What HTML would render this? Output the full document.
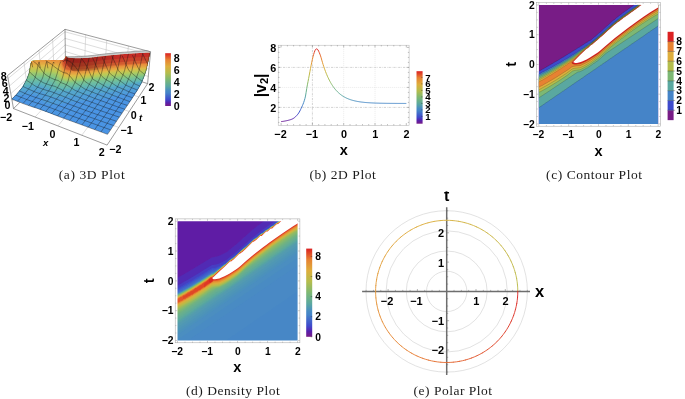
<!DOCTYPE html>
<html><head><meta charset="utf-8"><title>Figure</title>
<style>html,body{margin:0;padding:0;background:#fff}svg{display:block}.tk{font-family:"Liberation Sans",sans-serif;font-weight:bold;fill:#000}.cap{font-family:"Liberation Serif",serif;font-size:13.5px;fill:#1a1a1a}</style></head>
<body><svg width="685" height="399" viewBox="0 0 685 399">
<rect width="685" height="399" fill="#fff"/>
<g id="contour">
<rect x="538.9" y="5.0" width="119.2" height="118.9" fill="#781c86"/>
<path d="M539.6 123.9L658.1 123.9L658.1 5L633.9 5L633.5 5.2L632 6.5L631.3 6.8L629.8 8L628.3 8.9L626.8 10.2L626.1 10.5L624.6 11.7L623.6 12.4L623.1 12.6L621.6 13.9L620.1 14.9L617.7 16.9L617.1 17.2L614.1 19.9L613.4 20.2L612.7 20.8L608.9 24.3L606 26.8L600.7 31.8L599.2 32.8L595.5 36.2L594 37.2L591 39.9L589.6 40.7L588.8 40.9L587.3 42.2L586.6 42.4L584.9 43.6L584.3 43.8L583.7 44.4L582.1 45.3L581.4 45.9L580.6 46.2L579.1 47.4L578.4 47.6L576.7 48.8L576.1 49L575.5 49.6L573.9 50.5L573.2 51.1L572.4 51.3L570.7 52.6L570.2 52.7L569.5 53.3L568.7 53.6L567.1 54.8L566.5 55L565.8 55.5L564.2 56.4L563.5 57L562.7 57.2L562.1 57.8L560.5 58.6L559.8 59.2L559 59.5L558.4 60L556.8 60.9L556 61.5L555.3 61.7L554.6 62.2L553.8 62.6L553.1 63.1L552.2 63.7L551.6 63.9L550.9 64.5L550.1 64.8L548.3 65.9L547.8 66.1L547.1 66.7L546.4 66.9L545.7 67.4L544.9 67.8L543.2 68.9L542.6 69.1L541.9 69.7L541.1 69.9L540.5 70.4L539.6 70.8L538.9 71.2L538.9 123.9Z" fill="#3e4acc" fill-rule="evenodd"/>
<path d="M539.6 123.9L658.1 123.9L658.1 5L638 5L637.2 5.2L635 7.2L634.3 7.4L632.8 8.7L632 9.1L631.6 9.5L631.3 9.6L629.8 10.9L629 11.1L627.6 12.4L626.8 12.8L626.3 13.2L626.1 13.3L624.6 14.7L623.8 14.9L621.5 16.9L620.9 17.1L618.6 19.1L617.9 19.4L614.8 22.1L614.1 22.4L612.7 23.7L609.7 26.6L608.9 27L607.4 28.2L602.2 33.2L600 34.9L596.3 38.4L594.8 39.4L591.8 42.2L591 42.4L589.6 43.6L588.8 43.9L587.4 45.1L586.3 45.9L585.8 46L584.3 47.4L583.6 47.6L582.1 48.8L581.4 49.1L579.9 50.3L579.1 50.7L577.7 51.8L576.9 52.2L575.4 53.3L574.7 53.7L573.2 54.8L572.4 55.1L570.8 56.3L570.2 56.5L569.5 57L568 57.9L567.2 58.5L566.5 58.8L565.8 59.2L564.2 60.1L563.5 60.7L562.7 61L562.1 61.5L561.2 61.9L559.6 63L559 63.2L558.3 63.7L557.5 64L556.9 64.5L555.3 65.3L554.4 65.9L553.8 66.1L553.1 66.7L552.3 67L551.7 67.4L550.8 67.8L546.1 70.4L545.6 70.6L544.8 71.1L544.1 71.4L543.4 71.9L542.6 72.1L541.9 72.6L541.1 72.9L540.4 73.4L539.6 73.6L538.9 74.1L538.9 123.9Z" fill="#4584c8" fill-rule="evenodd"/>
<path d="M539.6 107.2L541.1 106.1L541.9 105.7L543.3 104.6L544.1 104.2L545.5 103.1L547.1 102.1L548.8 100.9L549.3 100.6L550.8 99.4L551.6 99.1L553 97.9L553.8 97.5L555.2 96.4L556 96L557.4 94.9L559 94L560.7 92.7L561.2 92.4L562.7 91.2L563.5 90.9L565 89.7L565.7 89.4L567.2 88.2L568 87.8L569.4 86.7L570.9 85.8L572.6 84.5L573.2 84.3L574.7 83L575.4 82.7L576.9 81.5L577.6 81.2L579.1 80.1L579.9 79.7L581.3 78.6L582.9 77.7L584.6 76.3L585.1 76.1L586.6 74.9L587.3 74.6L588.8 73.4L589.6 73.1L591 71.9L591.8 71.5L593.2 70.4L594.8 69.5L596.5 68.2L597 68L598.5 66.7L599.2 66.4L600.7 65.2L601.5 64.9L602.9 63.7L604.5 62.8L605.1 62.2L606.7 61.3L608.4 60L608.9 59.8L610.4 58.5L611.2 58.2L612.6 57L613.4 56.7L614.8 55.5L615.6 55.1L617.1 54L618.6 53.1L620.3 51.8L620.9 51.6L622.3 50.3L623.1 50.1L624.6 48.8L625.3 48.5L626.8 47.4L627.6 47L629 45.9L630.5 44.9L632.2 43.6L632.8 43.4L634.3 42.2L635 41.9L636.5 40.7L637.2 40.4L638.7 39.2L639.5 38.8L640.9 37.7L642.5 36.8L644.2 35.5L644.7 35.3L646.2 34L646.9 33.7L648.4 32.5L649.2 32.2L650.6 31L651.4 30.6L652.8 29.5L654.4 28.6L656.1 27.3L656.6 27.1L658.1 25.8L658.1 5L638.5 5L622.3 16.6L616.4 21.2L611.2 25.5L599.2 36.3L595.9 39.2L590.3 43.7L589.6 44.1L573.9 55.4L565 61L556 66.3L547.1 71.4L538.9 75.6L538.9 107.6Z" fill="#5aa8a0" fill-rule="evenodd"/>
<path d="M539.6 97.3L549.3 91L550 90.5L551.6 89.5L552.2 89L553.8 88L554.4 87.5L556 86.5L556.7 86L558.3 85L558.9 84.5L560.5 83.5L561.2 83L562.7 82.1L563.4 81.5L565 80.6L565.6 80.1L567.2 79.1L567.9 78.6L573.9 74.6L574.6 74.1L576.1 73.2L576.8 72.6L578.2 71.9L579.9 71.7L581 71.1L582.1 70.7L583.9 69.7L584.3 69.5L585.1 68.9L585.8 68.7L586.5 68.2L587.3 67.9L589 66.7L589.6 66.5L591.1 65.2L591.8 64.9L593.2 63.7L594.8 62.8L596.5 61.5L597 61.3L600.7 58.2L606 53.3L607.4 52.4L608.1 51.8L609.7 50.9L610.4 50.3L611.9 49.4L612.6 48.8L614.1 47.9L617 45.9L658.1 18.6L658.1 5L639 5L623.1 16.5L617.1 21L611.2 25.9L600 36L594.8 40.4L590.3 44.1L589.6 44.5L584.7 48.1L573.9 56.4L565 62.2L556 67.6L547.1 72.8L538.9 77.1L538.9 97.8Z" fill="#7db874" fill-rule="evenodd"/>
<path d="M539.6 91.9L540.4 91.7L541.1 91.2L541.9 90.9L546.4 88.2L547.1 87.9L550.8 85.8L551.6 85.3L552.3 84.9L558.3 81.2L562.7 78.3L567.2 75.3L569.4 73.6L572.4 71.1L574.7 70.4L580 69.7L582.1 68.7L585.8 66.7L589.6 64.5L598.5 58.1L600 56.9L604.6 52.6L610.4 47.4L614.9 43.7L616.4 42.7L617.9 41.4L619.4 40.4L621.7 38.4L622.3 38.1L623.1 37.5L624.6 36.2L625.3 35.8L626.1 35.3L627.6 34L628.3 33.6L630.6 31.8L631.3 31.5L632.7 30.3L634.3 29.3L635.8 28L636.5 27.7L637.9 26.6L638.7 26.2L640.2 25.1L641.7 24.1L642.4 23.6L643.9 22.7L644.6 22.1L646.2 21.2L646.9 20.6L647.7 20.3L649.2 19.1L649.9 18.9L650.5 18.4L652.1 17.5L652.9 16.9L653.6 16.6L654.3 16.1L655.1 15.8L656.9 14.7L657.4 14.5L658.1 13.9L658.1 5L639.4 5L623.1 16.8L616.4 21.9L611.2 26.3L600.7 35.7L596.3 39.5L590.3 44.4L589.2 45.1L581.6 51.1L573.2 58L564.2 63.8L556 68.9L547.1 74.2L538.9 78.7L538.9 92.5Z" fill="#b4bd4c" fill-rule="evenodd"/>
<path d="M539.1 89.7L547.8 84.9L556.8 79.6L566.5 73.3L568.7 71.7L571.3 69.7L572.4 68.9L573.2 68.6L574.7 68.3L579.9 67.7L582.1 66.8L585.1 65.3L589.6 62.7L597 57.6L598.5 56.5L600.7 54.6L605.3 50.3L613.4 43.4L621.6 37L629.8 30.8L637.2 25.5L644.7 20.4L651.4 16.1L658.1 12.1L658.1 5L639.9 5L635 8.6L622.3 17.7L615.6 22.8L610.4 27.3L597 39.2L590.3 44.8L589.6 45.3L582.3 51.1L573.2 59L571.6 60L563.5 65.5L556 70.2L547.1 75.6L538.9 80.2L538.9 89.8Z" fill="#deae3c" fill-rule="evenodd"/>
<path d="M539.6 86.8L540.4 86.3L541.2 86L541.9 85.5L542.6 85.3L543.4 84.7L543.9 84.5L545.6 83.4L546.5 83L547.1 82.6L547.9 82.3L548.6 81.7L549.1 81.5L550.8 80.4L551.7 80.1L552.3 79.5L553.1 79.3L553.8 78.7L555.4 77.8L556 77.3L556.6 77.1L558.3 75.9L559 75.6L559.8 75L561.3 74.1L562 73.6L567 70.4L569.2 68.9L571.7 67L573.2 66.4L576.1 66L579.9 65.7L580.6 65.5L582.1 64.8L585.8 63L588.1 61.8L590.3 60.4L597 56L598.5 54.9L600.7 53L605.3 48.8L613.4 41.9L621.6 35.5L630.5 28.8L638.7 22.9L645.4 18.3L652.1 13.9L658.1 10.4L658.1 5L640.3 5L634.3 9.5L622.3 18L614.9 23.8L610.4 27.6L597 39.6L585.6 48.8L582.1 51.8L578.8 54.8L573.2 60L570.9 61.5L569.4 62.8L568.7 63.3L567.9 63.7L566.5 64.9L565.7 65.2L564.2 66.5L563.5 66.7L562 68L561.2 68.2L559.8 69.4L559 69.6L557.5 70.8L556.7 71.1L556 71.8L554.5 72.6L553.8 73.2L553.2 73.4L551.6 74.6L550.8 74.9L550.1 75.5L549.6 75.6L548.4 76.3L547.8 76.8L547.1 77.1L546.4 77.7L545.9 77.8L544.1 79L543.3 79.3L542.6 79.9L541.9 80.1L541.1 80.7L540.7 80.8L538.9 82L538.9 87.1Z" fill="#e78232" fill-rule="evenodd"/>
<path d="M573.2 63.9L574.7 64.3L576.1 64.3L579.9 63.7L581.4 63.2L585.8 61.2L588.8 59.6L597.8 53.9L600 52.1L605.2 47.4L613.4 40.4L620.1 35.2L628.3 28.9L636.5 22.9L643.9 17.7L651.4 12.8L658.1 8.7L658.1 5L640.8 5L639.5 6.1L637.8 7.2L636.5 8.3L622.3 18.4L615.6 23.5L609.7 28.6L598.5 38.7L594 42.5L588 47.4L583.6 51.1L578 56.3L572.2 62.2L571.7 63L572.8 63.7Z" fill="#db2122" fill-rule="evenodd"/>
<path d="M573.9 62.5L574.7 62.8L575.4 63L576.9 62.9L579.9 62.2L582.1 61.4L586.6 59.4L589.6 57.8L597.8 52.6L600.6 50.3L605.2 46.2L614.9 38L627.6 28.3L636.5 21.7L643.9 16.5L650.6 12L658.1 7.4L658.1 5L641.4 5L641 5.4L640.2 5.7L638.7 7.1L638 7.7L637.2 8L635.8 9.3L634.2 10.2L632.8 11.5L632 11.7L630.5 13L629.8 13.6L629 13.9L627.6 15.2L626.8 15.4L625.3 16.8L624.6 17.3L623.8 17.6L622.3 19L620.8 19.9L619.4 21.2L618.6 21.7L617.9 22.1L615.6 24.1L614.1 25.1L610.4 28.5L608.2 30.3L603 35.3L601.5 36.5L600.7 37L597 40.5L596.3 41.1L595.7 41.4L594.8 42.2L592.5 44.2L591.8 44.7L591 45.1L588.1 47.9L586.7 48.8L585.8 49.6L579.5 55.5L573.9 61.2L573.6 61.5L573.5 62.2Z" fill="#fff" fill-rule="evenodd"/>
<path d="M633.9 5L633.5 5.2L632 6.5L631.3 6.8L629.8 8L628.3 8.9L626.8 10.2L626.1 10.5L624.6 11.7L623.6 12.4L623.1 12.6L621.6 13.9L620.1 14.9L618.7 16.1L617.7 16.9L617.1 17.2L614.1 19.9L613.4 20.2L612.7 20.8L608.9 24.3L606 26.8L600.7 31.8L599.2 32.8L595.5 36.2L594 37.2L591 39.9L589.6 40.7L588.8 40.9L587.3 42.2L586.6 42.4L584.9 43.6L584.3 43.8L583.7 44.4L582.1 45.3L581.4 45.9L580.6 46.2L579.1 47.4L578.4 47.6L576.7 48.8L576.1 49L575.5 49.6L573.9 50.5L573.2 51.1L572.4 51.3L570.7 52.6L570.2 52.7L569.5 53.3L568.7 53.6L567.1 54.8L566.5 55L565.8 55.5L564.2 56.4L563.5 57L562.7 57.2L562.1 57.8L560.5 58.6L559.8 59.2L559 59.5L558.4 60L556.8 60.9L556 61.5L555.3 61.7L554.6 62.2L553.8 62.6L553.1 63.1L552.2 63.7L551.6 63.9L550.9 64.5L550.1 64.8L548.3 65.9L547.8 66.1L547.1 66.7L546.4 66.9L545.7 67.4L544.9 67.8L543.2 68.9L542.6 69.1L541.9 69.7L541.1 69.9L540.5 70.4L539.6 70.8L538.9 71.2M638 5L637.2 5.2L635 7.2L634.3 7.4L632.8 8.7L632 9.1L631.6 9.5L631.3 9.6L629.8 10.9L629 11.1L627.6 12.4L626.8 12.8L626.3 13.2L626.1 13.3L624.6 14.7L623.8 14.9L621.5 16.9L620.9 17.1L618.6 19.1L617.9 19.4L614.8 22.1L614.1 22.4L613.4 23L609.7 26.6L608.9 27L608.2 27.5L602.2 33.2L600 34.9L596.3 38.4L594.8 39.4L591.8 42.2L591 42.4L589.6 43.6L588.8 43.9L587.4 45.1L586.3 45.9L585.8 46L584.3 47.4L583.6 47.6L582.1 48.8L581.4 49.1L579.9 50.3L579.1 50.7L577.7 51.8L576.9 52.2L575.4 53.3L574.7 53.7L573.2 54.8L572.4 55.1L570.8 56.3L570.2 56.5L569.5 57L568 57.9L567.2 58.5L566.5 58.8L565.8 59.2L564.2 60.1L563.5 60.7L562.7 61L562.1 61.5L561.2 61.9L559.6 63L559 63.2L558.3 63.7L557.5 64L556.9 64.5L555.3 65.3L554.4 65.9L553.8 66.1L553.1 66.7L552.3 67L551.7 67.4L550.8 67.8L546.1 70.4L545.6 70.6L544.8 71.1L544.1 71.4L543.4 71.9L542.6 72.1L541.9 72.6L541.1 72.9L540.4 73.4L539.6 73.6L538.9 74.1M538.9 107.6L539.6 107.2L541.1 106.1L541.9 105.7L543.3 104.6L544.1 104.2L545.5 103.1L547.1 102.1L548.8 100.9L549.3 100.6L550.8 99.4L551.6 99.1L553 97.9L553.8 97.5L555.2 96.4L556 96L557.4 94.9L559 94L560.7 92.7L561.2 92.4L562.7 91.2L563.5 90.9L565 89.7L565.7 89.4L567.2 88.2L568 87.8L569.4 86.7L570.9 85.8L572.6 84.5L573.2 84.3L574.7 83L575.4 82.7L576.9 81.5L577.6 81.2L579.1 80.1L579.9 79.7L581.3 78.6L582.9 77.7L584.6 76.3L585.1 76.1L586.6 74.9L587.3 74.6L588.8 73.4L589.6 73.1L591 71.9L591.8 71.5L593.2 70.4L594.8 69.5L596.5 68.2L597 68L598.5 66.7L599.2 66.4L600.7 65.2L601.5 64.9L602.9 63.7L604.5 62.8L605.1 62.2L606.7 61.3L608.4 60L608.9 59.8L610.4 58.5L611.2 58.2L612.6 57L613.4 56.7L614.8 55.5L615.6 55.1L617.1 54L618.6 53.1L620.3 51.8L620.9 51.6L622.3 50.3L623.1 50.1L624.6 48.8L625.3 48.5L626.8 47.4L627.6 47L629 45.9L630.5 44.9L632.2 43.6L632.8 43.4L634.3 42.2L635 41.9L636.5 40.7L637.2 40.4L638.7 39.2L639.5 38.8L640.9 37.7L642.5 36.8L644.2 35.5L644.7 35.3L646.2 34L646.9 33.7L648.4 32.5L649.2 32.2L650.6 31L651.4 30.6L652.8 29.5L654.4 28.6L656.1 27.3L656.6 27.1L658.1 25.8M638.5 5L622.3 16.6L616.4 21.2L611.2 25.5L599.2 36.3L595.9 39.2L590.3 43.7L589.6 44.1L573.9 55.4L565 61L556 66.3L547.1 71.4L538.9 75.6M538.9 97.8L549.3 91L550 90.5L551.6 89.5L552.2 89L553.8 88L554.4 87.5L556 86.5L556.7 86L558.3 85L558.9 84.5L560.5 83.5L561.2 83L562.7 82.1L563.4 81.5L565 80.6L565.6 80.1L567.2 79.1L567.9 78.6L573.9 74.6L574.6 74.1L576.1 73.2L576.8 72.6L578.2 71.9L579.9 71.7L581 71.1L582.1 70.7L583.9 69.7L584.3 69.5L585.1 68.9L585.8 68.7L586.5 68.2L587.3 67.9L589 66.7L589.6 66.5L591.1 65.2L591.8 64.9L593.2 63.7L594.8 62.8L596.5 61.5L597 61.3L600.7 58.2L606 53.3L607.4 52.4L608.1 51.8L609.7 50.9L610.4 50.3L611.9 49.4L612.6 48.8L614.1 47.9L617 45.9L658.1 18.6M639 5L623.1 16.5L617.1 21L611.2 25.9L600 36L594.8 40.4L590.3 44.1L589.6 44.5L584.7 48.1L573.9 56.4L565 62.2L556 67.6L547.1 72.8L538.9 77.1M538.9 92.5L539.6 91.9L540.4 91.7L541.1 91.2L541.9 90.9L548.6 87.1L558.3 81.2L562.7 78.3L567.2 75.3L569.4 73.6L572.4 71.1L574.7 70.4L580 69.7L582.1 68.7L585.8 66.7L589.6 64.5L598.5 58.1L600 56.9L604.6 52.6L610.4 47.4L614.9 43.7L616.4 42.7L617.9 41.4L619.4 40.4L621.7 38.4L622.3 38.1L623.1 37.5L624.6 36.2L625.3 35.8L626.1 35.3L627.6 34L628.3 33.6L630.6 31.8L631.3 31.5L632.7 30.3L634.3 29.3L635.8 28L636.5 27.7L637.9 26.6L638.7 26.2L640.2 25.1L641.7 24.1L642.4 23.6L643.9 22.7L644.6 22.1L646.2 21.2L646.9 20.6L647.7 20.3L649.2 19.1L649.9 18.9L650.5 18.4L652.1 17.5L652.9 16.9L653.6 16.6L654.3 16.1L655.1 15.8L656.9 14.7L657.4 14.5L658.1 13.9M639.4 5L623.1 16.8L616.4 21.9L611.2 26.3L600.7 35.7L596.3 39.5L590.3 44.4L589.2 45.1L581.6 51.1L573.2 58L564.2 63.8L556 68.9L547.1 74.2L538.9 78.7M538.9 89.8L547.8 84.9L556.8 79.6L566.5 73.3L568.7 71.7L571.3 69.7L572.4 68.9L573.2 68.6L574.7 68.3L579.9 67.7L582.1 66.8L585.1 65.3L589.6 62.7L597 57.6L598.5 56.5L600.7 54.6L605.3 50.3L613.4 43.4L621.6 37L629.8 30.8L637.2 25.5L644.7 20.4L651.4 16.1L658.1 12.1M639.9 5L635 8.6L622.3 17.7L615.6 22.8L610.4 27.3L597 39.2L590.3 44.8L589.6 45.3L582.3 51.1L573.2 59L571.6 60L563.5 65.5L556 70.2L547.1 75.6L538.9 80.2M538.9 87.1L539.8 86.7L540.4 86.3L541.2 86L541.9 85.5L542.6 85.3L543.4 84.7L543.9 84.5L545.6 83.4L546.5 83L547.1 82.6L547.9 82.3L548.6 81.7L549.1 81.5L550.8 80.4L551.7 80.1L552.3 79.5L553.1 79.3L553.8 78.7L555.4 77.8L556 77.3L556.6 77.1L558.3 75.9L559 75.6L559.8 75L561.3 74.1L562 73.6L567 70.4L569.2 68.9L571.7 67L573.2 66.4L576.1 66L579.9 65.7L580.6 65.5L582.1 64.8L585.8 63L588.1 61.8L590.3 60.4L597 56L598.5 54.9L600.7 53L605.3 48.8L613.4 41.9L621.6 35.5L630.5 28.8L638.7 22.9L645.4 18.3L652.1 13.9L658.1 10.4M640.3 5L634.3 9.5L622.3 18L614.9 23.8L610.4 27.6L597 39.6L585.6 48.8L582.1 51.8L578.8 54.8L573.2 60L570.9 61.5L569.4 62.8L568.7 63.3L567.9 63.7L566.5 64.9L565.7 65.2L564.2 66.5L563.5 66.7L562 68L561.2 68.2L559.8 69.4L559 69.6L557.5 70.8L556.7 71.1L556 71.8L554.5 72.6L553.8 73.2L553.2 73.4L551.6 74.6L550.8 74.9L550.1 75.5L549.6 75.6L548.4 76.3L547.8 76.8L547.1 77.1L546.4 77.7L545.9 77.8L544.1 79L543.3 79.3L542.6 79.9L541.9 80.1L541.1 80.7L540.7 80.8L538.9 82M640.8 5L639.5 6.1L637.8 7.2L636.5 8.3L622.3 18.4L615.6 23.5L609.7 28.6L598.5 38.7L594 42.5L588 47.4L582.7 51.8L579.5 54.8L576.5 57.8L572.8 61.5L571.7 63L572.8 63.7L574.7 64.3L576.1 64.3L579.1 63.9L580.6 63.5L582.1 62.9L585.8 61.2L588.8 59.6L597 54.4L598.5 53.3L600 52.1L605.2 47.4L614.1 39.8L628.3 28.9L636.5 22.9L643.9 17.7L651.4 12.8L658.1 8.7" fill="none" stroke="#000" stroke-opacity="0.45" stroke-width="0.35"/>
<rect x="536.6" y="2.7" width="123.8" height="123.5" fill="none" stroke="#a0a0a0" stroke-width="0.5"/>
<path d="M538.9 126.2v-2.0M538.9 2.7v2.0M536.6 123.9h2.0M660.4 123.9h-2.0M546.4 126.2v-1.2M546.4 2.7v1.2M536.6 116.5h1.2M660.4 116.5h-1.2M553.8 126.2v-1.2M553.8 2.7v1.2M536.6 109.0h1.2M660.4 109.0h-1.2M561.2 126.2v-1.2M561.2 2.7v1.2M536.6 101.6h1.2M660.4 101.6h-1.2M568.7 126.2v-2.0M568.7 2.7v2.0M536.6 94.2h2.0M660.4 94.2h-2.0M576.1 126.2v-1.2M576.1 2.7v1.2M536.6 86.7h1.2M660.4 86.7h-1.2M583.6 126.2v-1.2M583.6 2.7v1.2M536.6 79.3h1.2M660.4 79.3h-1.2M591.0 126.2v-1.2M591.0 2.7v1.2M536.6 71.9h1.2M660.4 71.9h-1.2M598.5 126.2v-2.0M598.5 2.7v2.0M536.6 64.5h2.0M660.4 64.5h-2.0M606.0 126.2v-1.2M606.0 2.7v1.2M536.6 57.0h1.2M660.4 57.0h-1.2M613.4 126.2v-1.2M613.4 2.7v1.2M536.6 49.6h1.2M660.4 49.6h-1.2M620.9 126.2v-1.2M620.9 2.7v1.2M536.6 42.2h1.2M660.4 42.2h-1.2M628.3 126.2v-2.0M628.3 2.7v2.0M536.6 34.7h2.0M660.4 34.7h-2.0M635.8 126.2v-1.2M635.8 2.7v1.2M536.6 27.3h1.2M660.4 27.3h-1.2M643.2 126.2v-1.2M643.2 2.7v1.2M536.6 19.9h1.2M660.4 19.9h-1.2M650.6 126.2v-1.2M650.6 2.7v1.2M536.6 12.4h1.2M660.4 12.4h-1.2M658.1 126.2v-2.0M658.1 2.7v2.0M536.6 5.0h2.0M660.4 5.0h-2.0" stroke="#8a8a8a" stroke-width="0.4" fill="none"/>
<text x="538.4" y="138.0" font-size="10.3" text-anchor="middle" class="tk">−2</text>
<text x="534.8" y="127.6" font-size="10.3" text-anchor="end" class="tk">−2</text>
<text x="568.2" y="138.0" font-size="10.3" text-anchor="middle" class="tk">−1</text>
<text x="534.8" y="97.9" font-size="10.3" text-anchor="end" class="tk">−1</text>
<text x="598.8" y="138.0" font-size="10.3" text-anchor="middle" class="tk">0</text>
<text x="534.8" y="68.2" font-size="10.3" text-anchor="end" class="tk">0</text>
<text x="628.6" y="138.0" font-size="10.3" text-anchor="middle" class="tk">1</text>
<text x="534.8" y="38.4" font-size="10.3" text-anchor="end" class="tk">1</text>
<text x="658.4" y="138.0" font-size="10.3" text-anchor="middle" class="tk">2</text>
<text x="534.8" y="8.7" font-size="10.3" text-anchor="end" class="tk">2</text>
<text x="598.5" y="155.8" font-size="14.5" text-anchor="middle" class="tk">x</text>
<text transform="translate(516.2,64.3) rotate(-90)" font-size="14.5" text-anchor="middle" class="tk">t</text>
<rect x="667.6" y="110.29" width="6.0" height="9.86" fill="#781c86"/>
<rect x="667.6" y="100.48" width="6.0" height="9.86" fill="#3e4acc"/>
<rect x="667.6" y="90.67" width="6.0" height="9.86" fill="#4584c8"/>
<rect x="667.6" y="80.86" width="6.0" height="9.86" fill="#5aa8a0"/>
<rect x="667.6" y="71.04" width="6.0" height="9.86" fill="#7db874"/>
<rect x="667.6" y="61.23" width="6.0" height="9.86" fill="#b4bd4c"/>
<rect x="667.6" y="51.42" width="6.0" height="9.86" fill="#deae3c"/>
<rect x="667.6" y="41.61" width="6.0" height="9.86" fill="#e78232"/>
<rect x="667.6" y="31.80" width="6.0" height="9.86" fill="#db2122"/>
<text x="676.3" y="114.0" font-size="10.3" class="tk">1</text>
<text x="676.3" y="104.2" font-size="10.3" class="tk">2</text>
<text x="676.3" y="94.4" font-size="10.3" class="tk">3</text>
<text x="676.3" y="84.6" font-size="10.3" class="tk">4</text>
<text x="676.3" y="74.7" font-size="10.3" class="tk">5</text>
<text x="676.3" y="64.9" font-size="10.3" class="tk">6</text>
<text x="676.3" y="55.1" font-size="10.3" class="tk">7</text>
<text x="676.3" y="45.3" font-size="10.3" class="tk">8</text>
<path d="M667.6 110.29h7.5M667.6 100.48h7.5M667.6 90.67h7.5M667.6 80.86h7.5M667.6 71.04h7.5M667.6 61.23h7.5M667.6 51.42h7.5M667.6 41.61h7.5" stroke="#222" stroke-width="0.35" fill="none"/>
</g>
<g id="density">
<defs><clipPath id="dclip"><rect x="177.5" y="221.2" width="120.1" height="119.3"/></clipPath><filter id="dblur" x="-5%" y="-5%" width="110%" height="110%"><feGaussianBlur stdDeviation="0.5"/></filter></defs>
<g clip-path="url(#dclip)"><g filter="url(#dblur)">
<rect x="173.5" y="217.2" width="128.1" height="127.3" fill="#6c1e94"/>
<path d="M176 343.5L300.6 343.5L300.6 218.2L174.5 218.2L174.5 343.5Z" fill="#5e1fa5" fill-rule="evenodd"/>
<path d="M176 343.5L300.6 343.5L300.6 218.2L268 218.2L260.1 224L254.1 228.6L249.6 232.5L237.6 243.2L227 251.9L222.5 254.2L218 256.2L215 257L213.5 257.3L212 257.4L201.5 263.8L192.5 269.2L183.5 274.4L174.5 279.5L174.5 343.5Z" fill="#512bb4" fill-rule="evenodd"/>
<path d="M176 343.5L300.6 343.5L300.6 218.2L278.8 218.2L261.6 230.6L255.6 235.2L249.6 240.2L237.6 250.9L227 259.6L222.5 262L218 263.9L215 264.8L213.5 265L212 265.1L201.5 271.6L192.5 276.9L183.5 282.2L174.5 287.3L174.5 343.5Z" fill="#463dc2" fill-rule="evenodd"/>
<path d="M176 343.5L300.6 343.5L300.6 218.2L281.9 218.2L281.1 218.5L276.5 222.7L275.1 223L272.2 225.7L270.6 226.3L269.6 227.2L269.1 227.4L266.1 230.1L264.6 230.5L261.7 233.1L260.1 234.1L259.5 234.6L258.6 234.9L255.6 237.6L254.1 239.1L252.6 239.9L251.8 240.6L251.1 241L245.1 246.6L240.6 251L238.6 252.5L237.6 253L236.5 254L236 254.3L233 257.1L230 260L228.5 260.5L225.7 263L224 263.5L222.9 264.4L221 265.1L220 265.9L219.5 266.1L218 266.5L216.3 267.4L215 267.7L213.5 267.9L212 268L210.8 268.9L209 269.8L206 271.9L204.5 272.6L203.5 273.4L201.5 274.5L198.5 276.4L197 277.1L196.1 277.9L192.5 279.9L191.1 280.9L189.5 281.6L188.5 282.3L186.5 283.3L185.8 283.8L183.3 285.3L182 285.9L180.7 286.8L179 287.6L178 288.3L176 289.3L175.3 289.8L174.5 290.2L174.5 343.5Z" fill="#3e4ecc" fill-rule="evenodd"/>
<path d="M176 343.5L300.6 343.5L300.6 218.2L282.6 218.2L281.1 219.2L280.5 219.7L279.6 220.3L278.6 221.2L278.1 221.3L276.7 222.7L275.1 223.7L274.5 224.2L273.6 224.7L272.6 225.7L272.1 225.8L270.6 227.2L269.1 227.9L268.2 228.7L267.6 228.8L266.2 230.1L264.6 231.2L264.1 231.6L263.1 232.2L262.1 233.1L261.6 233.2L260.1 234.6L258.6 235.5L258 236.1L257.1 236.7L256.1 237.6L255.6 237.7L252.6 240.6L249.6 242.9L245.6 246.6L245.1 246.8L237.5 254L236 254.9L235.5 255.5L234.5 256.1L233.7 257L233 257.2L228.5 261.5L227 262.3L226.3 263L224.1 264.4L222.5 265.2L221 266.2L218 267.7L215 269L213.5 269.4L212 269.5L201.5 276L192.5 281.4L183.1 286.8L174.5 291.6L174.5 343.5Z" fill="#405bcb" fill-rule="evenodd"/>
<path d="M176 343.5L300.6 343.5L300.6 218.2L282.7 218.2L281.1 219.7L279.6 220.7L279 221.2L278.1 221.4L275.1 224.2L273.6 225.1L272.9 225.7L272.1 225.8L270.7 227.2L268.7 228.7L267.6 228.9L266.4 230.1L266.1 230.3L264.6 231.7L263.1 232.6L262.5 233.1L261.6 233.3L258.6 236.1L257.1 237L256.5 237.6L255.6 237.8L249.4 243.6L248.1 244.6L245.9 246.6L245.1 246.9L243.9 248L243.6 248.3L236 255.5L234.5 256.6L234.1 257L233 257.4L232 258.5L231.5 258.6L227 263L224.7 264.4L224 264.6L222.5 265.9L221 266.8L216.5 269.4L213.5 270.8L212 270.9L201.5 277.4L192.5 282.8L182.9 288.3L174.5 292.8L174.5 343.5Z" fill="#4269ca" fill-rule="evenodd"/>
<path d="M176 343.5L300.6 343.5L300.6 218.2L282.8 218.2L279.4 221.2L278.1 221.5L276.9 222.7L276.6 222.8L275.1 224.2L273.3 225.7L272.1 225.9L269.1 228.7L267.6 229.1L266.5 230.1L266.1 230.3L262.9 233.1L261.6 233.4L256.9 237.6L255.6 237.9L254.4 239.1L254.1 239.3L248 245.1L246.3 246.6L245.1 247.1L244.1 248L243.6 248.4L234.5 257L233 257.6L232.2 258.5L231.5 258.7L227 263L225.2 264.4L224 264.7L221 267.4L218.7 268.9L218 269.1L216.5 270.4L213.9 271.9L212 272.1L207.8 274.9L207.5 275L206 276L203.1 277.9L197 281.6L190.6 285.3L182.7 289.8L174.5 294.1L174.5 343.5Z" fill="#4376c9" fill-rule="evenodd"/>
<path d="M176 343.5L300.6 343.5L300.6 218.2L282.8 218.2L279.6 221.2L278.1 221.6L273.6 225.7L272.1 226L269.1 228.7L267.6 229.2L266.6 230.1L266.1 230.3L263.1 233.2L261.6 233.5L257.1 237.6L255.6 238L254.5 239.1L254.1 239.3L246.6 246.6L245.1 247.3L244.3 248L243.6 248.5L234.5 257L233 257.8L232.3 258.5L231.5 258.8L225.5 264.5L224 264.8L222.5 266.1L219.5 268.9L218 269.4L216.8 270.4L216.5 270.6L215 272L213.5 272.6L212 273L211.5 273.4L210.5 273.6L209.2 274.9L207.5 275.7L206.7 276.4L206 276.6L204.6 277.9L203 278.5L202 279.4L201.5 279.5L200.1 280.9L198.5 281.2L197.2 282.3L195.5 283.1L194.6 283.8L194 284L192.5 285.4L191 285.7L189.7 286.8L188 287.4L186.9 288.3L185 289.2L184.2 289.8L183.5 290L181.9 291.3L180.5 291.6L179 292.8L177.5 293.1L176.1 294.3L174.5 294.6L174.5 343.5Z" fill="#4583c8" fill-rule="evenodd"/>
<path d="M176 343.5L300.6 343.5L300.6 218.2L282.9 218.2L279.6 221.3L278.1 221.7L277 222.7L276.6 222.9L273.6 225.7L272.1 226L269.1 228.8L267.6 229.3L266.7 230.1L266.1 230.4L263.1 233.2L261.6 233.5L257.1 237.7L255.6 238.1L254.6 239.1L254.1 239.4L246.6 246.6L245.1 247.4L244.4 248L243.6 248.6L242.6 249.5L242.1 249.9L234.5 257.1L233 258L232.5 258.5L231.5 258.9L225.5 264.5L224 264.9L222.9 265.9L222.5 266.2L219.5 269L218 269.6L217.1 270.4L216.5 270.7L215.3 271.9L213.5 273.1L212.9 273.4L212 273.5L210.5 274L209.5 274.9L209 275.2L207.5 276.4L206 276.9L205 277.9L203 279L202.6 279.4L201.5 279.8L200.4 280.9L200 281.1L198.5 281.6L197.7 282.3L197 282.7L195.5 283.8L194 284.4L192.9 285.3L192.5 285.6L191 286.1L190.2 286.8L188 288L187.6 288.3L186.5 288.7L185.1 289.8L183.5 290.4L182.4 291.3L182 291.5L180.5 292L179.5 292.8L179 293.1L177.5 293.5L176.6 294.3L176 294.6L174.5 295.1L174.5 343.5Z" fill="#4787c6" fill-rule="evenodd"/>
<path d="M176 343.5L221.9 343.5L300.6 289.7L300.6 218.2L282.9 218.2L279.6 221.3L278.1 221.7L277.1 222.7L276.6 223L273.6 225.8L272.1 226.1L269.1 228.8L267.6 229.4L266.8 230.1L266.1 230.4L263.1 233.2L261.6 233.6L260.5 234.6L260.1 234.9L257.1 237.7L255.6 238.2L254.7 239.1L254.1 239.4L246.6 246.6L245.1 247.5L244.5 248L243.6 248.6L242.6 249.5L242.1 249.9L234.5 257.1L233 258.1L232.6 258.5L231.5 258.9L225.5 264.5L224 265L223 265.9L222.5 266.2L219.5 269L218 269.8L217.3 270.4L216.5 270.8L215.4 271.9L213.5 273.4L212 273.6L210.5 274.1L209.7 274.9L209 275.3L207.5 276.5L206 277.1L205.2 277.9L203 279.4L201.5 280L200.5 280.9L198.5 281.9L198 282.3L197 282.8L195.5 283.9L194 284.5L193.1 285.3L192.5 285.7L191 286.3L190.4 286.8L189.5 287.3L188 288.3L186.5 288.9L185 290L183.5 290.5L182.6 291.3L182 291.6L180.5 292.1L179.7 292.8L179 293.2L177.5 293.7L176.9 294.3L176 294.7L174.5 295.3L174.5 343.5Z" fill="#4889c5" fill-rule="evenodd"/>
<path d="M176 343.5L183.3 343.5L300.6 263.4L300.6 218.2L283 218.2L279.6 221.3L278.1 221.8L277.1 222.7L276.6 223L273.6 225.8L272.1 226.1L269.1 228.8L267.6 229.4L266.8 230.1L266.1 230.4L263.1 233.2L261.6 233.6L260.5 234.6L260.1 234.9L257.1 237.7L255.6 238.2L254.7 239.1L254.1 239.4L246.6 246.7L245.1 247.5L244.6 248L243.6 248.6L240.6 251.3L234.5 257.1L233 258.1L232.7 258.5L231.5 258.9L225.5 264.6L224 265L223 265.9L222.5 266.2L219.5 269.1L218 269.8L217.4 270.4L216.5 270.9L215.4 271.9L213.5 273.4L212 273.6L210.5 274.2L209.8 274.9L209 275.3L207.5 276.5L206 277.2L205.3 277.9L203.1 279.4L201.5 280L200.6 280.9L197 282.9L195.5 284L194 284.6L193.2 285.3L191 286.4L190.6 286.8L189.5 287.3L188 288.4L186.5 289L185 290L183.5 290.6L182.7 291.3L182 291.7L180.5 292.3L179.9 292.8L177.5 293.9L177 294.3L176 294.8L174.5 295.4L174.5 343.5Z" fill="#498bc3" fill-rule="evenodd"/>
<path d="M174.6 342L300.6 256L300.6 218.2L283 218.2L279.6 221.3L278.1 221.8L277.2 222.7L276.6 223L273.6 225.8L272.1 226.1L269.1 228.8L267.6 229.5L266.9 230.1L266.1 230.5L263.1 233.3L261.6 233.6L260.5 234.6L260.1 234.9L257.1 237.7L255.6 238.3L254.7 239.1L254.1 239.4L246.6 246.7L245.1 247.6L244.6 248L243.6 248.7L242.7 249.5L242.1 250L234.5 257.1L232.7 258.5L231.5 258.9L230.5 260L230 260.3L225.5 264.6L224 265.1L223.1 265.9L222.5 266.3L219.5 269.1L218 269.9L217.5 270.4L216.5 270.9L215.5 271.9L213.5 273.5L212 273.7L210.5 274.3L209.9 274.9L209 275.4L207.5 276.6L206 277.3L205.4 277.9L204.5 278.4L203.2 279.4L201.5 280.1L200.7 280.9L198.3 282.3L197 283L195.5 284.1L194 284.7L193.3 285.3L189.5 287.4L188 288.4L186.5 289.1L185 290.1L183.5 290.7L182.8 291.3L182 291.7L180.5 292.4L180 292.8L174.5 295.5L174.5 342.1Z" fill="#4b8ec0" fill-rule="evenodd"/>
<path d="M175.8 336L300.6 250.8L300.6 218.2L283 218.2L282.6 218.5L279.6 221.4L278.1 221.8L277.2 222.7L276.6 223L273.6 225.8L272.1 226.1L269.1 228.8L267.6 229.5L266.9 230.1L266.1 230.5L263.1 233.3L261.6 233.7L260.6 234.6L260.1 234.9L257.1 237.8L255.6 238.3L254.8 239.1L254.1 239.5L246.6 246.7L245.1 247.6L244.7 248L243.6 248.7L242.7 249.5L242.1 250L234.5 257.2L232.8 258.5L231.5 259L230.5 260L230 260.3L225.5 264.6L224 265.1L223.1 265.9L222.5 266.3L219.5 269.1L218 270L217.6 270.4L216.5 271L215.6 271.9L213.5 273.5L212 273.7L210.5 274.4L210 274.9L209 275.4L207.5 276.6L206 277.4L205.5 277.9L204.5 278.4L203 279.5L201.5 280.2L200.8 280.9L198.4 282.3L197 283L195.5 284.1L194 284.8L193.4 285.3L190.9 286.8L189.5 287.5L188 288.5L186.5 289.2L185 290.2L183.5 290.8L183 291.3L182 291.8L180.5 292.5L180.2 292.8L174.5 295.7L174.5 336.9Z" fill="#4c91bc" fill-rule="evenodd"/>
<path d="M176 333.5L300.6 248.4L300.6 218.2L283 218.2L282.6 218.5L279.6 221.4L278.1 221.8L277.2 222.7L276.6 223L273.6 225.8L272.1 226.2L269.1 228.9L267.6 229.5L267 230.1L266.1 230.5L263.1 233.3L261.6 233.7L260.6 234.6L260.1 234.9L257.1 237.8L255.6 238.3L254.8 239.1L254.1 239.5L246.6 246.7L245.1 247.7L244.7 248L243.6 248.7L242.7 249.5L242.1 250L234.5 257.2L232.9 258.5L231.5 259L230.5 260L230 260.3L225.5 264.6L224 265.2L223.2 265.9L222.5 266.3L219.5 269.1L217.7 270.4L216.5 271L215.6 271.9L213.5 273.6L212 273.8L210.5 274.5L210.1 274.9L209 275.5L207.5 276.7L206 277.5L205.6 277.9L204.5 278.5L203 279.6L201.5 280.3L200.9 280.9L198.5 282.4L197 283.1L195.5 284.2L194 284.9L193.6 285.3L191 286.8L189.5 287.6L188 288.6L186.5 289.3L185.8 289.8L185 290.2L183.5 290.9L183.1 291.3L182 291.9L174.5 295.8L174.5 334.5Z" fill="#4e94b8" fill-rule="evenodd"/>
<path d="M175.2 331.6L300.6 245.9L300.6 218.2L283 218.2L282.6 218.5L279.6 221.4L278.1 221.9L277.2 222.7L276.6 223L273.6 225.8L272.1 226.2L269.1 228.9L267.6 229.6L267 230.1L266.1 230.5L263.1 233.3L261.6 233.7L260.6 234.6L260.1 234.9L257.1 237.8L255.6 238.4L254.8 239.1L254.1 239.5L246.6 246.7L245.1 247.7L244.8 248L243.6 248.8L242.8 249.5L242.1 250L234.5 257.2L232.9 258.5L231.5 259L230.6 260L230 260.3L225.5 264.6L224 265.2L223.2 265.9L222.5 266.3L219.5 269.1L217.8 270.4L216.5 271.1L215.7 271.9L213.5 273.6L212 273.8L210.5 274.6L210.2 274.9L209 275.6L207.5 276.7L206 277.6L205.7 277.9L204.5 278.6L203 279.6L201.5 280.4L201 280.9L198.5 282.4L197 283.2L195.5 284.2L194 285L193.7 285.3L191 286.9L189.5 287.7L188 288.6L186.5 289.3L185 290.3L174.5 295.9L174.5 332Z" fill="#5097b5" fill-rule="evenodd"/>
<path d="M175.9 328.6L300.6 243.4L300.6 218.2L283.1 218.2L282.6 218.6L279.6 221.4L278.1 221.9L277.3 222.7L276.6 223L273.6 225.9L272.1 226.2L269.1 228.9L267.6 229.6L267 230.1L266.1 230.5L263.1 233.3L261.6 233.7L260.6 234.6L260.1 235L257.1 237.8L255.6 238.4L254.9 239.1L254.1 239.5L246.6 246.7L244.8 248L243.6 248.8L242.8 249.5L242.1 250.1L234.5 257.2L233 258.5L231.5 259L230.6 260L230 260.3L225.5 264.6L224 265.2L223.2 265.9L222.5 266.4L219.5 269.2L217.9 270.4L216.5 271.1L215.7 271.9L213.5 273.7L212 273.9L210.5 274.7L209 275.6L207.5 276.8L204.5 278.6L203 279.7L201.5 280.5L201.1 280.9L198.5 282.5L197 283.3L196.3 283.8L194 285.1L193.8 285.3L191 287L189.5 287.7L188 288.7L186.5 289.4L185 290.4L174.5 295.9L174.5 329.5Z" fill="#529ab1" fill-rule="evenodd"/>
<path d="M176 326L187.6 318.1L188 317.9L189.5 316.8L192.5 314.9L194 313.7L207.2 304.7L207.5 304.6L211.6 301.7L212 301.5L213.5 300.4L216 298.7L216.5 298.5L218 297.3L221 295.4L231.3 288.3L231.5 288.2L235.6 285.3L236 285.2L237.6 284L240 282.3L240.6 282.1L242.1 280.9L255.3 271.9L255.6 271.8L259.6 268.9L260.1 268.7L264 265.9L264.6 265.7L266.1 264.5L269.1 262.6L279.3 255.5L279.6 255.4L283.7 252.5L284.1 252.3L288 249.5L288.6 249.3L290.1 248.1L293.1 246.2L300.6 240.9L300.6 218.2L283.1 218.2L282.6 218.6L279.6 221.4L278.1 221.9L277.3 222.7L276.6 223.1L273.6 225.9L272.1 226.2L269.1 228.9L267.6 229.7L267.1 230.1L266.1 230.5L263.1 233.3L261.6 233.8L260.7 234.6L260.1 235L257.1 237.8L255.6 238.4L254.9 239.1L254.1 239.5L246.6 246.8L244.9 248L243.6 248.8L242.8 249.5L242.1 250.1L234.5 257.2L233 258.5L231.5 259.1L230.6 260L230 260.3L225.5 264.7L224 265.3L223.3 265.9L222.5 266.4L219.5 269.2L218 270.4L216.5 271.2L215.8 271.9L213.5 273.7L212 273.9L209 275.7L207.5 276.8L204.5 278.7L203 279.7L201.5 280.6L201.2 280.9L198.5 282.5L197 283.3L196.4 283.8L193.9 285.3L183.5 291.3L174.5 296L174.5 327.1Z" fill="#549dad" fill-rule="evenodd"/>
<path d="M174.6 325.6L176 324.8L176.8 324.1L179 322.6L180.5 321.7L181.2 321.1L183.5 319.5L185 318.6L187.7 316.6L189.5 315.6L192.1 313.7L195.5 311.5L197 310.3L200 308.4L200.8 307.7L203 306.2L204.5 305.4L205.3 304.7L207.5 303.1L209 302.3L209.7 301.7L211.8 300.2L213.5 299.2L216.5 297L218 296.2L218.5 295.8L219.5 295.2L220.6 294.3L222.5 293.2L223 292.8L224 292.2L225 291.3L225.5 291L228.5 289.2L229.5 288.3L231.7 286.8L233 286.1L233.9 285.3L236 283.8L237.6 283L240.3 280.9L242.1 279.8L245.1 277.5L248.1 275.7L249 274.9L251.2 273.4L252.6 272.6L253.4 271.9L255.6 270.4L257.1 269.6L257.8 268.9L259.9 267.4L261.6 266.5L264.3 264.4L266.1 263.4L266.6 263L267.6 262.4L268.6 261.5L272.1 259.3L273.6 258.1L276.6 256.3L277.4 255.5L279.6 254L281.1 253.2L281.9 252.5L284.1 250.9L285.6 250.1L288.3 248L290.1 247L290.7 246.6L291.6 246L292.7 245.1L296.1 242.9L297.6 241.7L300.6 239.9L300.6 218.2L283.1 218.2L282.6 218.6L279.6 221.4L278.1 222L277.3 222.7L276.6 223.1L273.6 225.9L272.1 226.2L269.1 228.9L267.6 229.7L267.1 230.1L266.1 230.5L263.1 233.4L261.6 233.8L260.7 234.6L260.1 235L257.1 237.8L255.6 238.5L254.9 239.1L254.1 239.5L246.6 246.8L244.9 248L243.6 248.9L242.9 249.5L242.1 250.1L234.5 257.2L233 258.5L231.5 259.1L230.6 260L230 260.4L225.5 264.7L224 265.3L223.3 265.9L222.5 266.4L219.5 269.2L218 270.4L216.5 271.3L213.5 273.7L212 273.9L209 275.8L207.5 276.9L204.5 278.7L203 279.8L194 285.3L183.5 291.3L174.5 296.1L174.5 325.7Z" fill="#55a0aa" fill-rule="evenodd"/>
<path d="M175.6 324.1L216.5 296.3L219.5 294.4L228.5 288.4L239.1 281.2L245.1 276.9L300.6 239.1L300.6 218.2L283.1 218.2L282.6 218.6L279.6 221.5L278.1 222L277.4 222.7L276.6 223.1L273.6 225.9L272.1 226.3L269.1 228.9L267.6 229.7L267.2 230.1L266.1 230.6L263.1 233.4L261.6 233.8L260.7 234.6L260.1 235L257.1 237.9L255.6 238.5L255 239.1L254.1 239.6L246.6 246.8L245 248L243.6 248.9L242.9 249.5L242.1 250.1L234.5 257.3L233 258.5L231.5 259.1L230.7 260L230 260.4L225.5 264.7L224 265.3L223.4 265.9L222.5 266.4L219.5 269.2L218 270.4L216.5 271.3L213.5 273.8L212 274L209 275.8L207.5 276.9L203 279.8L194 285.4L183.5 291.4L174.5 296.2L174.5 324.9Z" fill="#57a3a6" fill-rule="evenodd"/>
<path d="M174.5 324.1L216.5 295.6L221 292.8L228.5 287.9L237.6 281.7L245.1 276.2L300.6 238.5L300.6 218.2L283.1 218.2L282.6 218.6L279.6 221.5L278.1 222L277.4 222.7L276.6 223.1L273.6 225.9L272.1 226.3L269.1 229L267.6 229.8L267.2 230.1L266.1 230.6L263.1 233.4L261.6 233.8L260.7 234.6L260.1 235L257.1 237.9L255.6 238.5L255 239.1L254.1 239.6L246.6 246.8L245 248L243.6 248.9L242.9 249.5L242.1 250.2L234.5 257.3L233 258.5L231.5 259.1L230.7 260L230 260.4L225.5 264.7L224 265.4L223.4 265.9L222.5 266.5L219.5 269.2L218 270.5L216.5 271.4L213.5 273.8L212 274L209 275.9L207.5 277L203 279.9L194 285.4L183.5 291.5L174.5 296.2L174.5 324.1Z" fill="#59a6a2" fill-rule="evenodd"/>
<path d="M175.6 322.6L216.5 294.9L221 292.2L228.5 287.4L238 280.9L245.1 275.6L300.6 238L300.6 218.2L283.2 218.2L282.6 218.6L279.6 221.5L278.1 222L277.4 222.7L276.6 223.1L273.6 225.9L272.1 226.3L269.1 229L267.6 229.8L267.2 230.1L266.1 230.6L263.1 233.4L261.6 233.9L260.8 234.6L260.1 235L257.1 237.9L255.6 238.6L255 239.1L254.1 239.6L246.6 246.8L245.1 248L243.6 248.9L243 249.5L242.1 250.2L241.2 251L240.6 251.5L234.5 257.3L233 258.6L231.5 259.1L230.7 260L230 260.4L225.5 264.7L224 265.4L223.5 265.9L222.5 266.5L219.5 269.3L218 270.5L216.5 271.4L213.5 273.9L212 274.1L209 275.9L207.5 277L203 280L194 285.5L183.5 291.5L174.5 296.3L174.5 323.3Z" fill="#5ba89f" fill-rule="evenodd"/>
<path d="M176 321.5L216.5 294.2L219.5 292.6L221 291.7L228.5 286.8L237.6 280.6L245.1 274.9L300.6 237.4L300.6 218.2L283.2 218.2L282.6 218.6L279.6 221.5L278.1 222.1L277.4 222.7L276.6 223.1L273.6 226L272.1 226.3L271.2 227.2L270.6 227.6L269.1 229L267.6 229.9L267.3 230.1L266.1 230.6L263.1 233.4L261.6 233.9L260.8 234.6L260.1 235.1L257.1 237.9L255.6 238.6L255 239.1L254.1 239.6L246.6 246.8L245.1 248.1L243.6 249L243 249.5L242.1 250.2L241.2 251L240.6 251.5L234.5 257.3L233 258.6L231.5 259.2L230.7 260L230 260.4L225.5 264.7L224 265.5L223.5 265.9L222.5 266.5L219.5 269.3L218 270.5L216.5 271.5L213.5 273.9L212 274.1L209 276L207.5 277.1L203 280L194 285.6L183.5 291.6L174.5 296.4L174.5 322.5Z" fill="#5eaa9c" fill-rule="evenodd"/>
<path d="M175.5 321.1L216.5 293.4L219.5 292L221 291.1L228.5 286.3L237.6 280.1L245.1 274.2L300.6 236.8L300.6 218.2L283.2 218.2L282.6 218.7L279.6 221.5L278.1 222.1L277.5 222.7L276.6 223.1L273.6 226L272.1 226.4L271.2 227.2L270.6 227.6L269.1 229L267.6 229.9L267.3 230.1L266.1 230.6L263.1 233.4L261.6 233.9L260.8 234.6L260.1 235.1L257.1 237.9L255.6 238.6L255.1 239.1L254.1 239.6L246.6 246.9L245.1 248.1L243.6 249L243 249.5L242.1 250.2L241.2 251L240.6 251.5L234.5 257.3L233 258.6L231.5 259.2L230.8 260L230 260.4L225.5 264.8L224 265.5L223.5 265.9L222.5 266.5L219.5 269.3L218 270.5L216.5 271.5L213.5 273.9L212 274.2L209 276.1L207.5 277.2L203 280.1L194 285.6L183.5 291.7L174.5 296.5L174.5 321.8Z" fill="#60ab98" fill-rule="evenodd"/>
<path d="M176 320L216.5 292.7L219.5 291.3L221 290.5L228.5 285.8L237.6 279.5L245.1 273.6L300.6 236.3L300.6 218.2L283.2 218.2L282.6 218.7L279.6 221.5L278.1 222.1L277.5 222.7L276.6 223.2L273.6 226L272.1 226.4L271.2 227.2L270.6 227.6L269.1 229L267.4 230.1L266.1 230.6L263.1 233.5L261.6 233.9L260.9 234.6L260.1 235.1L257.1 237.9L255.6 238.7L255.1 239.1L254.1 239.6L246.6 246.9L245.1 248.1L243.6 249L243.1 249.5L242.1 250.2L241.3 251L240.6 251.6L234.5 257.3L233 258.6L231.5 259.2L230.8 260L230 260.4L225.5 264.8L224 265.5L223.6 265.9L222.5 266.6L219.5 269.3L218 270.6L216.5 271.6L213.5 274L212 274.2L203 280.1L194 285.7L183.5 291.7L174.5 296.5L174.5 321Z" fill="#63ac95" fill-rule="evenodd"/>
<path d="M175.4 319.6L216.5 292L219.5 290.7L221 289.9L225.5 287.2L228.5 285.3L237.6 279L245.1 272.9L300.6 235.7L300.6 218.2L283.3 218.2L282.6 218.7L279.6 221.5L278.1 222.2L277.5 222.7L276.6 223.2L273.6 226L272.1 226.4L271.3 227.2L270.6 227.6L269.1 229L267.4 230.1L266.1 230.6L263.1 233.5L261.6 234L260.9 234.6L260.1 235.1L257.1 238L255.6 238.7L255.1 239.1L254.1 239.7L246.6 246.9L245.1 248.1L243.6 249.1L243.1 249.5L242.1 250.3L241.3 251L240.6 251.6L234.5 257.4L233 258.6L231.5 259.2L230.8 260L230 260.5L225.5 264.8L224 265.6L223.6 265.9L222.5 266.6L219.5 269.3L218 270.6L216.5 271.6L213.5 274L212 274.3L203 280.2L194 285.7L183.5 291.8L174.5 296.6L174.5 320.2Z" fill="#66ae91" fill-rule="evenodd"/>
<path d="M175.4 318.1L216.5 290.7L219.5 289.6L221 288.8L225.5 286.2L228.5 284.3L237.6 278L245.1 271.6L300.6 234.6L300.6 218.2L283.3 218.2L282.6 218.7L279.6 221.6L278.1 222.2L277.6 222.7L276.6 223.2L273.6 226L272.1 226.4L271.3 227.2L270.6 227.7L269.1 229.1L267.5 230.1L266.1 230.7L263.1 233.5L261.6 234L260.9 234.6L260.1 235.1L257.1 238L255.6 238.7L255.2 239.1L254.1 239.7L246.6 246.9L245.1 248.2L243.6 249.1L243.1 249.5L242.1 250.3L239.1 253L234.5 257.4L233 258.7L231.5 259.3L230.8 260L230 260.5L225.5 264.8L224 265.6L223.7 265.9L222.5 266.6L218 270.6L213.5 274.1L212 274.4L201.5 281.2L192.4 286.8L183.5 291.9L174.5 296.7L174.5 318.7Z" fill="#6bb08a" fill-rule="evenodd"/>
<path d="M175 316.6L213.5 291.2L215.5 289.8L216.5 289.3L218 288.7L219.5 288.3L221 287.6L225 285.3L225.5 285.2L227.5 283.8L228.5 283.4L231.5 281L234.1 279.4L234.5 279.2L236 277.9L239.1 275.7L244.9 270.4L246.6 269.2L248.1 268.3L251.1 266.2L254.1 264.3L256 263L300.6 233.3L300.6 218.2L283.3 218.2L282.6 218.8L279.6 221.6L278.1 222.3L277.7 222.7L276.6 223.2L273.6 226.1L272.1 226.5L271.4 227.2L270.6 227.7L269.1 229.1L267.6 230.1L266.1 230.7L263.1 233.5L261.6 234.1L261 234.6L260.1 235.2L257.1 238L254.1 239.7L246.6 247L245.1 248.2L243.6 249.2L243.2 249.5L242.1 250.3L241.4 251L240.6 251.6L234.5 257.4L233 258.7L231.5 259.3L230.9 260L230 260.5L225.5 264.9L222.5 266.7L218 270.7L213.5 274.2L212 274.5L201.5 281.4L192.5 286.9L183.5 292.1L174.5 296.9L174.5 317Z" fill="#71b283" fill-rule="evenodd"/>
<path d="M175.3 315.1L183.5 309.9L184.5 309.2L188 307L189 306.2L192.5 304.1L193.6 303.2L195.5 302.1L197 301.1L198.1 300.2L200 299.1L201.5 298.1L202.7 297.3L206 295.1L207.1 294.3L209 293.1L211.6 291.3L213.5 290.2L214.1 289.8L215 289.3L216.4 288.3L219.5 287.8L220.9 286.8L222.5 286.3L224 285.2L225.5 284.7L226.5 283.8L228.5 282.7L228.9 282.3L230 281.8L233 279.3L234.5 278.6L235.4 277.9L236 277.5L244.1 270.4L248.1 267.3L249.6 266.5L252.6 264.3L254.1 263.4L257.1 261.2L258.6 260.3L261.6 258.2L279.6 246.2L297.1 234.6L300.6 232.5L300.6 218.2L283.4 218.2L282.6 218.8L279.6 221.7L278.1 222.3L277.7 222.7L276.6 223.3L273.6 226.1L272.1 226.5L271.4 227.2L270.6 227.7L269.1 229.1L267.6 230.2L266.1 230.7L263.1 233.6L261.6 234.1L261 234.6L260.1 235.2L257.1 238.1L254.1 239.8L246.6 247L245.1 248.2L242.1 250.4L241.4 251L240.6 251.7L234.5 257.5L233 258.7L231.5 259.4L230.9 260L230 260.6L225.5 264.9L222.5 266.7L218 270.7L213.5 274.3L212 274.6L201.5 281.5L192.5 287L183.5 292.2L174.5 297.1L174.5 315.7Z" fill="#76b57c" fill-rule="evenodd"/>
<path d="M176 313.7L197 300.3L206 294.4L210.5 291.2L212 290.3L215 288.7L215.6 288.3L216.5 287.9L218 287.7L219.5 287.3L220.2 286.8L222.5 285.8L223.1 285.3L225.5 284.1L230 281.3L233 279L236 277.1L239.1 274.5L243.6 270.3L248.1 266.9L252.6 263.7L267.6 253.3L279.6 245.2L291.2 237.6L300.6 231.6L300.6 218.2L283.4 218.2L282.6 218.8L279.6 221.7L278.1 222.4L277.8 222.7L276.6 223.3L273.6 226.2L272.1 226.6L271.5 227.2L270.6 227.8L269.1 229.2L267.6 230.2L266.1 230.8L263.1 233.6L261.6 234.2L261.1 234.6L260.1 235.2L257.1 238.1L254.1 239.8L246.6 247L245.1 248.3L242.1 250.4L241.5 251L240.6 251.7L234.5 257.5L233 258.8L231.5 259.4L231 260L230 260.6L225.5 264.9L222.5 266.8L218 270.8L213.5 274.4L212 274.7L201.5 281.6L192.5 287.2L183.5 292.4L174.5 297.2L174.5 314.7Z" fill="#7cb875" fill-rule="evenodd"/>
<path d="M176 312.7L186.5 306.3L195.5 300.7L203 295.8L207.5 292.7L210.5 290.5L212 289.5L216.5 287.5L218 287.3L219.5 286.8L222.5 285.3L227 282.9L231.5 279.8L233 278.7L236 276.7L239.1 274.2L245.1 268.7L252.6 263.1L261.6 256.7L272.1 249.3L282.6 242.3L292.1 236.1L300.6 230.9L300.6 218.2L283.5 218.2L282.6 218.9L279.6 221.7L276.6 223.3L273.6 226.2L272.1 226.6L271.5 227.2L270.6 227.8L269.1 229.2L267.6 230.3L266.1 230.8L263.1 233.6L261.6 234.2L261.2 234.6L260.1 235.3L257.1 238.1L255.5 239.1L254.1 239.8L246.6 247.1L245.1 248.3L242.1 250.5L241.5 251L240.6 251.8L234.5 257.5L233 258.8L231.5 259.5L231 260L230 260.6L225.5 265L222.5 266.9L218 270.8L213.5 274.5L212 274.8L201.5 281.7L192.5 287.3L183.5 292.5L174.5 297.4L174.5 313.6Z" fill="#84b96f" fill-rule="evenodd"/>
<path d="M175.3 312.2L185 306.5L195.5 300L203 295.1L207.5 292L210.5 289.7L212 288.8L216.5 287.2L218 287L219.5 286.5L224 284.2L227 282.5L228.5 281.5L237.6 275.2L243.6 269.7L248.1 266L254.1 261.4L266.1 252.7L275.1 246.4L284.1 240.3L293.1 234.6L300.6 230.2L300.6 218.2L283.5 218.2L282.6 218.9L279.6 221.8L276.6 223.4L273.6 226.2L272.1 226.7L271.6 227.2L270.6 227.8L269.1 229.2L267.6 230.3L266.1 230.8L263.1 233.7L261.6 234.3L261.2 234.6L260.1 235.3L257.1 238.2L255.6 239.1L254.1 239.9L246.6 247.1L245.1 248.4L242.1 250.5L240.6 251.8L234.5 257.6L233 258.9L231.5 259.5L231.1 260L230 260.7L225.5 265L222.5 266.9L218 270.9L213.5 274.6L212 274.9L200 282.8L189.5 289.2L182 293.5L174.5 297.6L174.5 312.6Z" fill="#8db969" fill-rule="evenodd"/>
<path d="M176 310.8L182 307.5L189.5 303.1L197 298.4L201.5 295.5L206 292.4L210.5 288.9L211.6 288.3L213.5 287.6L215 287.2L216.5 286.8L218 286.6L219.5 286.2L221 285.5L224 283.9L228.5 281.2L236 276L237.6 274.9L239.1 273.6L243.6 269.4L251.1 263.1L258.6 257.4L269.1 249.7L277.8 243.6L285.6 238.4L294.1 233.1L300.6 229.4L300.6 218.2L283.6 218.2L282.6 218.9L279.6 221.8L276.6 223.4L273.6 226.3L272.1 226.7L271.6 227.2L270.6 227.9L269.1 229.3L267.6 230.4L266.1 230.9L263.1 233.7L261.6 234.3L261.3 234.6L260.1 235.3L257.1 238.2L255.6 239.2L254.1 239.9L246.6 247.1L245.1 248.4L242.1 250.6L240.6 251.8L234.5 257.6L233 258.9L231.5 259.6L231.2 260L230 260.7L225.5 265L222.5 267L218 270.9L213.5 274.7L212 275L200 283L189.5 289.4L182 293.7L174.5 297.7L174.5 311.6Z" fill="#95ba62" fill-rule="evenodd"/>
<path d="M176 310L177.3 309.2L179 308.4L180.1 307.7L183.5 305.9L185.4 304.7L186.5 304.2L188 303.2L189.5 302.4L197 297.9L200.1 295.8L201.5 295L207.5 290.8L210.5 288.2L212 287.5L213.5 287L218 286.3L219.5 285.9L221 285.2L224 283.6L228.5 280.9L236 275.7L237.6 274.6L243.6 269.1L254.1 260.2L255.6 259.2L257.1 258.1L260.1 255.5L261.6 254.6L262.3 254L263.1 253.6L266.1 251L269.1 249.1L272.1 246.6L273.6 245.9L274.6 245.1L275.1 244.8L276.5 243.6L278.1 242.7L278.9 242.1L279.6 241.7L281 240.6L283.3 239.1L284.1 238.8L285.5 237.6L287.1 236.8L288 236.1L288.6 235.9L290.1 234.6L291.6 234.1L292.9 233.1L295.5 231.6L296.1 231.4L297.9 230.1L299.1 229.8L300.6 228.7L300.6 218.2L283.6 218.2L282.6 219L279.6 221.8L276.6 223.4L273.6 226.3L272.1 226.8L271.7 227.2L270.6 227.9L269.1 229.3L267.6 230.4L266.1 230.9L263.1 233.8L261.6 234.4L261.3 234.6L260.1 235.4L257.1 238.2L255.6 239.2L254.1 240L246.6 247.2L245.1 248.5L242.1 250.6L240.6 251.9L234.5 257.6L233 259L231.5 259.6L231.2 260L230 260.7L225.5 265.1L222.5 267L218 271L213.5 274.8L212 275.2L210.5 276.1L206 279.2L200 283.1L189.5 289.5L182 293.8L174.5 297.9L174.5 310.6Z" fill="#9ebb5c" fill-rule="evenodd"/>
<path d="M176 309.3L177.5 308.6L179 307.7L180.5 307L182 306.1L183.5 305.4L184.4 304.7L186.5 303.6L194 299.2L203 293.5L207.5 290.3L210.5 287.8L212 286.9L213.5 286.5L218 285.9L219.5 285.5L224 283.3L228.5 280.6L236 275.4L237.6 274.3L245.1 267.5L253.9 260L257.1 257.7L261.6 254L263.1 253.1L264.6 252L267.6 249.5L269.1 248.7L269.8 248L270.6 247.6L271.7 246.6L273.9 245.1L275.1 244.4L278.1 242L279.6 241.3L282.4 239.1L284.1 238.3L287 236.1L288.6 235.4L289.6 234.6L291.6 233.5L292.1 233.1L293.1 232.6L294.6 231.6L296.1 231L297.2 230.1L299.1 229.3L300 228.7L300.6 228.3L300.6 218.2L283.7 218.2L282.6 219L279.6 221.9L276.6 223.5L273.6 226.3L272.1 226.8L271.7 227.2L270.6 227.9L269.1 229.3L267.6 230.5L266.1 230.9L263.1 233.8L261.6 234.4L260.1 235.4L257.1 238.3L255.6 239.3L254.1 240L252.6 241.4L246.6 247.2L245.1 248.5L242.1 250.7L240.6 251.9L234.5 257.7L233 259L231.5 259.7L231.3 260L230 260.8L225.5 265.1L224 266.2L222.5 267.1L213.5 274.8L212 275.3L210.5 276.2L206 279.3L200 283.2L189.5 289.7L182 294L174.5 298L174.5 310.1Z" fill="#a7bc56" fill-rule="evenodd"/>
<path d="M175.3 309.2L177.5 308.1L183.5 304.8L191 300.5L195.5 297.8L203 293L207.5 289.8L210.5 287.4L211.4 286.8L212 286.5L213.5 286.2L218 285.6L219.5 285.2L224 282.9L228.5 280.3L237.6 274L246.5 265.9L253.5 260L258.6 256.2L261.6 253.8L264.6 251.6L267.6 249.3L270.6 247.2L271.3 246.6L273.4 245.1L275.1 244L278.1 241.7L281.1 239.8L282 239.1L285.6 236.9L287.1 235.8L288.6 235L289 234.6L291.6 233L293.1 232.3L294.6 231.3L296.1 230.5L296.6 230.1L300.6 228L300.6 218.2L283.7 218.2L282.6 219L279.6 221.9L278.1 222.8L276.6 223.5L273.6 226.4L272.1 226.9L270.6 228L269.1 229.4L268 230.1L267.6 230.5L266.1 231L263.1 233.8L261.6 234.5L260.1 235.4L257.1 238.3L255.6 239.3L254.1 240L252.6 241.4L246.6 247.2L245.1 248.6L242.1 250.7L240.6 251.9L234.5 257.7L233 259L231.5 259.7L230 260.8L225.5 265.1L224.3 265.9L224 266.2L222.5 267.1L213.5 274.9L212 275.4L210.5 276.3L206 279.4L200 283.3L189.5 289.8L182 294.1L174.5 298.2L174.5 309.6Z" fill="#b0bd4f" fill-rule="evenodd"/>
<path d="M176 308.4L185 303.5L195.5 297.3L204.5 291.5L207.5 289.4L210.7 286.8L212 286.1L213.5 285.8L218 285.3L219.5 284.9L224 282.6L228.5 280L237.6 273.7L246.2 265.9L253.2 260L261.6 253.5L269.1 247.9L278.1 241.5L286.2 236.1L294.6 231L300.6 227.7L300.6 218.2L283.8 218.2L282.6 219.1L279.6 221.9L278.1 222.8L276.6 223.5L273.6 226.4L272.1 226.9L270.6 228L269.1 229.4L268 230.1L267.6 230.6L266.1 231L263.1 233.9L261.6 234.5L260.1 235.5L257.1 238.3L255.9 239.1L255.6 239.4L254.1 240.1L252.6 241.4L246.6 247.3L245.1 248.6L240.6 252L234.5 257.7L233 259.1L231.5 259.8L230 260.8L225.5 265.2L224.4 265.9L224 266.3L222.5 267.2L221 268.4L213.5 275L212 275.5L210.5 276.4L207.5 278.5L201.5 282.5L191 289.1L182 294.3L174.5 298.4L174.5 309.2Z" fill="#b7bc4b" fill-rule="evenodd"/>
<path d="M176 307.9L186.5 302.2L195.5 296.9L204.5 291.1L207.5 289L210.5 286.5L212 285.7L215 285.2L218 284.9L219.5 284.5L224 282.3L228.5 279.7L237.6 273.4L239.1 272.2L245.9 265.9L252.9 260L261.6 253.2L270.6 246.5L279.6 240.2L287.1 235.2L294.6 230.7L300.6 227.3L300.6 218.2L283.8 218.2L282.6 219.1L279.6 222L278.3 222.7L278.1 222.9L276.6 223.6L273.6 226.4L272.1 227L270.6 228L269.1 229.5L268.1 230.1L267.6 230.6L266.1 231L263.1 233.9L261.6 234.6L260.1 235.5L257.1 238.4L255.9 239.1L255.6 239.4L254.1 240.1L252.6 241.5L246.6 247.3L243.6 249.8L242.1 250.8L240.6 252L233 259.1L231.5 259.8L230 260.9L225.5 265.2L224.4 265.9L224 266.3L222.5 267.2L221 268.5L213.5 275.1L212 275.6L210.5 276.5L207.5 278.6L201.5 282.6L191 289.2L183.5 293.6L174.5 298.5L174.5 308.7Z" fill="#beb948" fill-rule="evenodd"/>
<path d="M175.6 307.7L185 302.6L191 299.2L195.5 296.4L201.5 292.6L206 289.6L207.5 288.6L210.5 286.1L212 285.4L215 284.9L218 284.6L219.5 284.2L224 282L228.5 279.4L236 274.3L237.6 273.1L239.1 271.9L245.6 265.9L252.6 260L261.6 253L270.6 246.3L279.6 239.9L287.1 234.9L294.6 230.4L300.6 227L300.6 218.2L283.9 218.2L282.6 219.1L279.6 222L278.4 222.7L278.1 223L276.6 223.6L273.6 226.5L272.1 227L270.6 228.1L269.1 229.5L268.1 230.1L267.6 230.7L266.1 231.1L263.1 233.9L261.6 234.6L260.1 235.5L257.1 238.4L256 239.1L255.6 239.5L254.1 240.2L252.6 241.5L246.6 247.3L243.6 249.9L242.1 250.9L240.6 252.1L233 259.2L231.5 259.9L230 260.9L225.5 265.2L224.5 265.9L224 266.4L222.5 267.3L221 268.5L213.5 275.2L212 275.7L210.5 276.6L207.5 278.7L203 281.8L198.5 284.7L191 289.3L183.5 293.7L174.5 298.7L174.5 308.3Z" fill="#c4b746" fill-rule="evenodd"/>
<path d="M174.8 307.7L183.5 303L194 296.9L200 293.2L204.5 290.2L207.5 288.1L210.5 285.8L212 285L215 284.5L218 284.2L219.5 283.8L224 281.6L228.5 279.1L236 274L237.6 272.9L239.1 271.6L245.3 265.9L252.6 259.7L261.6 252.7L270.6 246L279.6 239.6L287.1 234.7L294.6 230.1L300.6 226.7L300.6 218.2L283.9 218.2L282.6 219.2L279.6 222L278.4 222.7L278.1 223L276.6 223.6L273.6 226.5L272.1 227.1L270.6 228.1L269.1 229.5L268.2 230.1L267.6 230.7L266.1 231.1L263.1 234L261.7 234.6L260.1 235.6L257.1 238.4L256 239.1L255.6 239.5L254.1 240.2L252.6 241.5L246.6 247.4L243.6 249.9L242.1 250.9L240.6 252.1L233 259.2L231.5 259.9L230 260.9L225.5 265.3L224.6 265.9L224 266.4L222.5 267.4L221 268.6L213.5 275.3L212 275.8L210.5 276.6L207.5 278.8L203 281.9L198.5 284.8L191 289.5L183.5 293.9L174.5 298.8L174.5 307.8Z" fill="#cbb543" fill-rule="evenodd"/>
<path d="M176 306.6L186.5 300.9L195.5 295.6L201.5 291.7L207.5 287.7L210.5 285.4L212 284.6L215 284.1L218 283.9L219.5 283.5L224 281.3L228.5 278.8L236 273.7L237.6 272.6L239.1 271.3L245 265.9L252.6 259.5L261.6 252.5L270.6 245.7L279.6 239.4L287.1 234.4L294.6 229.8L300.6 226.4L300.6 218.2L284 218.2L282.6 219.2L279.6 222.1L278.5 222.7L278.1 223.1L276.6 223.7L273.6 226.5L272.1 227.1L270.6 228.1L269.1 229.6L268.2 230.1L267.6 230.8L266.1 231.1L263.1 234L261.8 234.6L261.6 234.8L260.1 235.6L257.1 238.5L256.1 239.1L255.6 239.6L254.1 240.2L252.6 241.6L246.6 247.4L243.6 250L242.1 251L240.6 252.1L233 259.2L231.6 260L230 261L225.5 265.3L224.6 265.9L224 266.5L222.5 267.4L221 268.6L213.5 275.4L212 275.9L210.5 276.7L207.5 279L203 282L198.5 284.9L191 289.6L183.5 294L174.5 299L174.5 307.4Z" fill="#d2b241" fill-rule="evenodd"/>
<path d="M176 306.2L185 301.3L194 296.1L200 292.3L206 288.3L207.5 287.3L210.5 285L212 284.2L215 283.8L218 283.5L219.5 283.2L224 281L228.5 278.4L236 273.4L237.6 272.3L239.1 271.1L244.7 265.9L252.6 259.2L261.6 252.2L270.6 245.5L279.6 239.1L287.1 234.1L294.6 229.5L300.6 226.1L300.6 218.2L284 218.2L282.6 219.2L279.6 222.1L278.6 222.7L278.1 223.1L276.6 223.7L273.6 226.6L272.1 227.2L270.6 228.2L269.1 229.6L268.3 230.1L267.6 230.8L266.1 231.2L263.1 234L261.8 234.6L261.6 234.9L260.1 235.6L257.1 238.5L256.1 239.1L255.6 239.6L254.1 240.3L252.6 241.6L246.6 247.5L243.6 250L242.1 251L240.6 252.2L233 259.3L231.7 260L230 261L225.5 265.4L224.7 265.9L224 266.5L222.6 267.4L221 268.7L215.7 273.4L213.5 275.5L212 276L210.5 276.8L207.5 279.1L203 282.1L198.5 285.1L191 289.8L183.5 294.2L179 296.7L174.5 299.1L174.5 307Z" fill="#d8b03e" fill-rule="evenodd"/>
<path d="M175.1 306.2L180.5 303.4L186.5 300L194 295.6L201.5 290.9L207.5 286.9L210.5 284.6L212 283.8L215 283.4L218 283.2L219.5 282.8L224 280.7L228.5 278.1L236 273.1L237.6 272L239.1 270.8L244.4 265.9L252.6 258.9L261.6 251.9L270.6 245.2L279.2 239.1L287.1 233.8L294.6 229.2L300.6 225.7L300.6 218.2L284 218.2L282.6 219.3L279.6 222.1L278.6 222.7L278.1 223.2L276.6 223.7L273.6 226.6L272.2 227.2L270.6 228.2L269.1 229.6L268.3 230.1L267.6 230.9L266.1 231.2L263.1 234.1L261.9 234.6L261.6 235L260.1 235.7L257.1 238.6L256.2 239.1L255.6 239.7L254.1 240.3L252.6 241.6L246.6 247.5L245.1 248.9L244.1 249.5L243.6 250.1L240.6 252.2L233 259.3L231.7 260L230 261L225.5 265.4L224.7 265.9L224 266.6L222.7 267.4L221 268.7L215.8 273.4L213.5 275.6L212 276.1L210.5 276.9L207.5 279.2L203 282.2L198.5 285.2L191 289.9L183.5 294.3L179 296.9L174.5 299.3L174.5 306.5Z" fill="#dead3c" fill-rule="evenodd"/>
<path d="M176 305.3L177.1 304.7L177.5 304.6L179.9 303.2L180.5 303L182.7 301.7L183.5 301.4L185 300.4L186.5 299.6L190.5 297.3L191 297.1L193 295.8L194 295.3L197.9 292.8L198.5 292.5L200 291.4L202.5 289.8L203 289.6L204.5 288.5L207 286.8L207.5 286.6L210.5 284.2L211.3 283.8L213.5 283.2L218 282.8L219.5 282.5L224 280.3L228.5 277.8L236 272.8L237.6 271.7L239.1 270.5L245.8 264.4L252.6 258.7L261.6 251.7L272.1 243.9L279.6 238.6L287.1 233.5L294.6 228.9L300.6 225.4L300.6 218.2L284.1 218.2L282.6 219.3L279.6 222.2L278.7 222.7L278.1 223.3L276.6 223.8L273.6 226.7L272.3 227.2L270.6 228.2L269.1 229.7L268.4 230.1L267.6 230.9L266.1 231.2L263.1 234.1L262 234.6L261.6 235L260.1 235.7L257.1 238.6L256.3 239.1L255.6 239.8L254.1 240.3L252.6 241.7L245.1 248.9L244.2 249.5L243.6 250.2L240.6 252.2L233 259.4L231.8 260L231.5 260.2L230 261.1L225.5 265.4L224.8 265.9L224 266.6L222.8 267.4L221 268.7L215.9 273.4L213.5 275.7L212 276.2L210.5 277L207.5 279.3L203 282.4L198.5 285.3L191 290L183.5 294.5L179 297L174.5 299.4L174.5 306.1Z" fill="#e0a63a" fill-rule="evenodd"/>
<path d="M176 304.9L177.5 304.4L179.1 303.2L180.5 302.8L182 301.7L183.5 301.1L184.8 300.2L187.3 298.7L188 298.5L189.8 297.3L191 296.8L192.4 295.8L194 294.9L195 294.3L195.5 294.1L197.2 292.8L198.5 292.2L201.8 289.8L203 289.4L206.4 286.8L207.5 286.4L210.5 283.8L213.5 282.9L218 282.5L219.5 282.1L221 281.5L225.5 279.2L228.5 277.5L236 272.6L237.6 271.5L239.1 270.2L243.8 265.9L252.6 258.4L260.1 252.5L270.1 245.1L278.1 239.3L287.1 233.3L294.6 228.6L300.6 225.1L300.6 218.2L284.2 218.2L282.6 219.3L279.6 222.2L278.7 222.7L278.1 223.3L276.6 223.8L273.6 226.7L272.4 227.2L272.1 227.4L270.6 228.3L269.1 229.7L268.4 230.1L267.6 231L266.1 231.3L263.1 234.1L262.1 234.6L261.6 235.1L260.1 235.7L257.1 238.6L256.3 239.1L255.6 239.8L254.1 240.4L252.6 241.7L245.1 248.9L244.3 249.5L243.6 250.2L240.6 252.3L233 259.4L231.9 260L231.5 260.3L230 261.1L225.5 265.5L224.8 265.9L224 266.7L222.9 267.4L221 268.8L216 273.4L213.5 275.8L212 276.3L210.5 277.1L207.5 279.4L203 282.5L198.5 285.5L194 288.3L192.5 289.2L191 290.2L188 291.9L186.5 292.9L185 293.7L179 297.2L177.5 297.9L176 298.9L174.5 299.6L174.5 305.9Z" fill="#e19f39" fill-rule="evenodd"/>
<path d="M175.8 304.7L176 304.6L177.5 304.2L179 303.1L180.5 302.5L181.6 301.7L183.5 300.8L184.3 300.2L185 300L186.7 298.7L188 298.3L189.5 297.1L191 296.6L192.1 295.8L194.4 294.3L195.5 293.8L197 292.6L198.5 291.9L199.4 291.3L200 291L201.5 289.7L203 289.1L204 288.3L204.5 288.1L206 286.7L207.5 286.2L210.5 283.7L213.5 282.5L218 282.1L219.5 281.8L224 279.7L228.5 277.2L236 272.3L237.6 271.2L239.1 270L245.2 264.4L252.6 258.2L261.6 251.2L272.1 243.3L278.1 239.1L287.1 233L294.6 228.3L300.6 224.8L300.6 218.2L284.3 218.2L282.6 219.4L279.6 222.3L278.8 222.7L278.1 223.4L276.6 223.8L273.6 226.7L272.4 227.2L272.1 227.5L270.6 228.3L267.6 231L266.1 231.3L263.1 234.2L262.1 234.6L261.6 235.2L260.1 235.8L257.1 238.7L256.4 239.1L255.6 239.9L254.1 240.4L252.6 241.7L245.1 249L244.3 249.5L243.6 250.3L240.6 252.3L233 259.4L232 260L231.5 260.4L230 261.1L225.5 265.5L224.9 265.9L224 266.8L222.9 267.4L222.5 267.8L221 268.8L216 273.4L213.5 275.9L210.5 277.2L207.5 279.6L203 282.7L200 284.6L198.5 285.6L195.5 287.4L194 288.5L192.5 289.3L191 290.3L188 292L186.5 293.1L185 293.8L183.5 294.8L180.5 296.4L179 297.4L177.5 298.1L176 299L174.5 299.7L174.5 305.8Z" fill="#e29837" fill-rule="evenodd"/>
<path d="M175.6 304.7L176 304.4L177.5 304L179 302.9L180.5 302.3L181.3 301.7L183.9 300.2L185 299.8L186.5 298.6L188 298.1L189.5 296.9L191 296.3L191.7 295.8L192.5 295.4L194 294.2L195.5 293.6L197 292.5L198.5 291.7L199 291.3L200 290.8L201.5 289.5L203 288.9L203.7 288.3L204.5 287.9L206 286.6L207.5 285.9L210.5 283.5L213.5 282.1L218 281.8L219.5 281.4L224 279.4L228.5 276.9L236 272L237.6 270.9L239.1 269.7L244.9 264.4L252.6 257.9L261.6 250.9L272.1 243.1L279.6 237.7L287.1 232.7L293.5 228.7L300.6 224.5L300.6 218.2L284.4 218.2L284.1 218.5L282.6 219.4L279.6 222.3L278.9 222.7L278.1 223.4L276.6 223.9L273.6 226.8L272.5 227.2L272.1 227.6L270.6 228.3L267.6 231.1L266.1 231.3L263.1 234.2L262.2 234.6L261.6 235.2L260.1 235.8L257.1 238.7L256.4 239.1L255.6 239.9L254.1 240.5L252.6 241.8L245.1 249L244.4 249.5L243.6 250.3L242.5 251L242.1 251.4L240.6 252.3L233 259.5L232.1 260L231.5 260.5L230 261.2L225.5 265.5L224.9 265.9L224 266.8L223 267.4L222.5 267.9L221 268.9L219.3 270.4L216.1 273.4L213.5 276L210.5 277.2L207.5 279.7L203.6 282.3L203 282.8L199.1 285.3L198.5 285.8L195.5 287.5L194.4 288.3L194 288.7L192.5 289.4L189.5 291.4L188 292.1L187 292.8L186.5 293.2L185 293.9L183.5 294.9L180.5 296.5L179.3 297.3L179 297.6L177.5 298.2L176 299.2L174.5 299.9L174.5 305.6Z" fill="#e49135" fill-rule="evenodd"/>
<path d="M175.3 304.7L176 304.2L177.5 303.7L179 302.7L180.5 302L183.5 300.2L185 299.6L186.5 298.4L188 297.9L189.5 296.8L192.5 295.2L194 294L195.5 293.4L197 292.3L198.6 291.3L200 290.6L201.5 289.3L203 288.6L203.4 288.3L204.5 287.7L206 286.4L207.5 285.7L210.5 283.4L212.7 282.3L213.5 281.8L218 281.5L219.5 281.1L224 279.1L228.5 276.6L236 271.7L237.6 270.6L239.1 269.4L243.6 265.3L248 261.5L253.4 257L263.1 249.5L272.1 242.8L279.6 237.5L287.1 232.4L293.1 228.6L300.6 224.2L300.6 218.2L284.5 218.2L284.1 218.6L282.6 219.4L279.6 222.3L278.9 222.7L278.1 223.5L276.6 223.9L273.6 226.8L272.6 227.2L272.1 227.7L270.6 228.4L267.6 231.1L266.1 231.4L263.1 234.3L262.3 234.6L261.6 235.3L260.1 235.8L257.1 238.7L256.5 239.1L255.6 240L254.1 240.5L252.6 241.8L246.6 247.7L243.6 250.4L242.6 251L242.1 251.5L240.6 252.4L239.1 253.7L233 259.5L232.2 260L231.5 260.6L230 261.2L225.5 265.6L225 265.9L224 266.9L223.1 267.4L222.5 268L221.1 268.9L219.4 270.4L216.2 273.4L213.5 276.1L212.7 276.4L212 276.8L210.5 277.3L208 279.4L207.5 279.9L203.8 282.3L203 283L199.2 285.3L198.5 285.9L195.5 287.7L194.6 288.3L194 288.8L192.5 289.5L189.8 291.3L189.5 291.6L188 292.2L187.2 292.8L186.5 293.4L185 294.1L182.2 295.8L182 296L180.5 296.6L179.5 297.3L179 297.8L177.5 298.4L176 299.4L174.5 300L174.5 305.4Z" fill="#e58a34" fill-rule="evenodd"/>
<path d="M175.1 304.7L176 304L177.5 303.5L179 302.5L182 301L183.2 300.2L183.5 299.9L185 299.4L186.5 298.1L188 297.7L189.5 296.6L192.5 295L194 293.8L195.5 293.2L198.5 291.1L200 290.5L201.5 289.2L204.5 287.6L206 286.2L207.5 285.5L209 284.4L210.5 283.3L213.5 281.5L215 281.4L218 281.1L219.5 280.8L221 280.1L225.5 278L228.5 276.3L230 275.4L237.6 270.4L239.1 269.1L246 263L253.1 257L263.1 249.3L272.1 242.6L279.6 237.2L287.1 232.2L293.1 228.3L300.6 223.9L300.6 218.2L284.6 218.2L284.1 218.7L282.6 219.5L279.6 222.4L279 222.7L278.1 223.6L276.6 223.9L273.6 226.8L272.7 227.2L272.1 227.8L270.6 228.4L267.6 231.2L266.1 231.4L263.1 234.3L262.4 234.6L261.6 235.4L260.1 235.9L257.1 238.8L256.5 239.1L255.6 240L254.1 240.5L252.6 241.8L246.6 247.7L243.6 250.4L242.7 251L242.1 251.6L240.6 252.4L239.1 253.8L233 259.6L232.2 260L231.5 260.6L230 261.2L225.5 265.6L225 265.9L224 266.9L223.2 267.4L222.5 268.1L221.2 268.9L219.4 270.4L216.3 273.4L213.5 276.1L212.9 276.4L212 276.9L210.5 277.4L208.2 279.4L207.5 280L203.9 282.3L203 283.1L201.8 283.8L201.5 284.1L199.4 285.3L198.5 286.1L195.5 287.8L194.7 288.3L194 289L192.3 289.8L190 291.3L189.5 291.8L188 292.4L187.4 292.8L186.5 293.6L185 294.2L182.5 295.8L182 296.3L180.5 296.8L179.7 297.3L179 298L177.5 298.5L176 299.6L174.5 300.2L174.5 305.2Z" fill="#e78332" fill-rule="evenodd"/>
<path d="M174.8 304.7L176 303.8L177.5 303.3L179 302.3L180.2 301.7L180.5 301.4L182 300.8L182.9 300.2L183.5 299.6L185 299.2L186.5 297.9L188 297.5L189.5 296.4L190.7 295.8L191 295.4L192.5 294.8L193.3 294.3L194 293.5L195.5 293L198 291.3L198.5 290.8L200 290.3L201.5 289L202.8 288.3L203 288.1L204.5 287.4L206 286.1L207.4 285.3L209 284.3L210.5 283.1L211.9 282.3L213.5 281.2L215 281.1L216.5 281L218 280.8L219.5 280.4L221 279.8L225.5 277.7L228.5 276L230 275.1L236 271.1L237.6 270.1L239.1 268.9L243.6 264.8L248.1 260.9L254.1 255.9L263.1 249L272.1 242.3L279.6 237L287.1 231.9L294.6 227.1L300.6 223.6L300.6 218.2L284.7 218.2L284.1 218.8L282.6 219.5L279.6 222.4L279.1 222.7L278.1 223.6L276.6 224L273.6 226.9L272.8 227.2L272.1 227.8L270.6 228.4L267.6 231.2L266.1 231.4L263.1 234.3L262.4 234.6L261.6 235.4L260.1 235.9L257.1 238.8L256.6 239.1L255.6 240.1L254.1 240.6L252.6 241.9L246.6 247.7L243.6 250.5L242.8 251L242.1 251.7L240.6 252.5L239.1 253.8L233 259.6L232.3 260L231.5 260.7L230 261.3L225.5 265.6L225.1 265.9L224 267L223.3 267.4L222.5 268.2L221.3 268.9L219.5 270.4L216.4 273.4L213.5 276.2L212 277L210.5 277.5L208.3 279.4L207.5 280.2L206.4 280.9L206 281.2L204.1 282.3L203 283.3L202 283.8L201.5 284.4L200 285L198.5 286.3L197.4 286.8L197 287.3L195.5 287.9L194.9 288.3L194 289.2L192.5 289.8L190.3 291.3L189.5 292L188 292.5L187.6 292.8L186.5 293.7L185.2 294.3L185 294.5L182.7 295.8L182 296.5L180.5 296.9L179.9 297.3L179 298.2L177.5 298.6L176 299.7L174.7 300.2L174.5 300.5L174.5 305Z" fill="#e57530" fill-rule="evenodd"/>
<path d="M174.6 304.7L176 303.6L177.1 303.2L177.5 302.8L179.8 301.7L180.5 301L182 300.6L182.6 300.2L183.5 299.3L185 299.1L186.5 297.7L188 297.3L189.5 296.2L190.3 295.8L191 295.1L192.5 294.7L194 293.3L195.5 292.8L197.7 291.3L198.5 290.5L200 290.1L201.5 288.8L202.5 288.3L203 287.8L204.5 287.3L206 285.9L207.1 285.3L207.5 284.9L209 284.1L210.5 283L211.6 282.3L213.5 280.8L215 280.8L216.5 280.7L218 280.4L219.5 280.1L221 279.5L225.5 277.4L228.5 275.7L230 274.8L236 270.9L237.6 269.8L239.1 268.6L245.4 263L252.6 256.9L261.6 249.9L272.1 242L279.6 236.7L287.1 231.6L294.6 226.8L300.6 223.3L300.6 218.2L284.8 218.2L284.1 218.9L282.6 219.5L279.6 222.4L279.1 222.7L278.1 223.7L276.6 224L273.6 226.9L272.9 227.2L272.1 227.9L270.6 228.5L267.6 231.3L266.1 231.5L263.1 234.4L262.5 234.6L261.6 235.5L260.1 235.9L257.1 238.8L256.7 239.1L255.6 240.1L254.2 240.6L252.6 241.9L246.6 247.8L243.6 250.6L242.8 251L242.1 251.8L240.6 252.5L239.1 253.8L233 259.7L232.4 260L231.5 260.8L230 261.3L225.5 265.7L225.2 265.9L224 267L223.4 267.4L222.5 268.2L221.5 268.9L221 269.3L219.6 270.4L216.4 273.4L213.5 276.3L212 277.2L210.5 277.6L208.5 279.4L207.5 280.3L206.6 280.9L206 281.5L204.3 282.3L203 283.4L202.3 283.8L201.5 284.6L199.8 285.3L198.5 286.4L197.7 286.8L197 287.5L195.5 288L195.1 288.3L194 289.4L192.9 289.8L192.5 290.2L190.5 291.3L189.5 292.3L188 292.6L186.5 293.9L185.6 294.3L185 294.9L183.5 295.5L183 295.8L182 296.8L180.5 297L180.2 297.3L179 298.4L177.6 298.7L176 299.9L175.2 300.2L174.5 300.9L174.5 304.8Z" fill="#e4662d" fill-rule="evenodd"/>
<path d="M176 303.4L176.5 303.2L177.5 302.3L179 301.9L179.4 301.7L180.5 300.6L182 300.4L182.3 300.2L183.5 299L185 298.9L186.5 297.5L187.3 297.3L188 296.5L189.9 295.8L191 294.7L192.5 294.5L194 293.1L194.9 292.8L195.5 292.2L197.5 291.3L198.5 290.2L200 290L201.5 288.6L202.1 288.3L203 287.4L204.5 287.1L206 285.7L206.8 285.3L207.5 284.6L209 283.9L210.5 282.8L211.4 282.3L213.2 280.9L213.5 280.5L215 280.5L216.5 280.4L218 280.1L219.5 279.7L221 279.1L225.5 277L228.5 275.4L230 274.5L236 270.6L237.6 269.5L239.1 268.3L243.6 264.3L252.6 256.6L260.1 250.8L272.1 241.8L278.1 237.5L287.1 231.3L294.6 226.6L300.6 223L300.6 218.2L284.9 218.2L284.1 219L282.6 219.6L279.6 222.5L279.2 222.7L278.1 223.7L276.6 224L273.6 226.9L273 227.2L272.1 228L270.6 228.5L267.6 231.3L266.1 231.5L263.1 234.4L262.6 234.6L261.6 235.6L260.1 236L257.1 238.9L256.7 239.1L255.6 240.2L254.3 240.6L252.6 241.9L246.6 247.8L243.6 250.6L242.9 251L242.1 251.9L240.6 252.5L239.1 253.9L233 259.7L232.5 260L231.5 260.9L230 261.3L224 267.1L223.5 267.4L222.5 268.3L221.6 268.9L221 269.5L219.7 270.4L218 271.9L213.5 276.5L212 277.3L210.5 277.7L208.6 279.4L207.5 280.5L206.9 280.9L206 281.8L204.4 282.3L203 283.6L202.5 283.8L201.5 284.9L200 285.3L198.5 286.6L198 286.8L197 287.8L195.5 288.1L194 289.6L193.4 289.8L192.5 290.7L191 291.1L190.7 291.3L189.5 292.5L187.9 292.8L186.5 294.1L186.1 294.3L185 295.3L183.5 295.6L183.3 295.8L182 297L180.5 297.2L179 298.6L178.3 298.7L177.5 299.6L175.6 300.2L174.5 301.3L174.5 304.1Z" fill="#e2572b" fill-rule="evenodd"/>
<path d="M183.5 298.7L185 297.5L186.6 297.3L188 295.9L189.6 295.8L191 294.4L192.5 294.3L194 292.9L194.3 292.8L195.5 291.6L197 291.4L198.5 290L200 289.8L201.5 288.5L201.8 288.3L203 287.1L204.5 287L206 285.5L206.4 285.3L207.5 284.3L208.6 283.8L209 283.5L211.1 282.3L212.9 280.9L213.5 280.2L215 280.2L216.5 280L219.5 279.4L221 278.8L225.5 276.7L228.5 275.1L236 270.3L237.6 269.3L239.1 268L243.6 264L254.1 255.1L267.6 244.8L278.1 237.2L284.1 233.1L291.6 228.1L296.1 225.3L300.6 222.7L300.6 218.2L285 218.2L284.1 219.1L282.6 219.6L279.6 222.5L279.3 222.7L278.1 223.8L276.6 224.1L273.6 227L273.1 227.2L272.1 228.1L270.6 228.5L267.6 231.4L266.1 231.5L263.1 234.4L262.7 234.6L261.6 235.7L260.1 236L255.6 240.3L254.5 240.6L254.1 241L252.6 242L243.6 250.7L243 251L242.1 252L240.8 252.5L239.1 253.9L233 259.7L232.6 260L231.5 260.9L230 261.4L224 267.1L223.5 267.4L222.5 268.4L221.7 268.9L221 269.6L219.9 270.4L218.2 271.9L213.5 276.6L212 277.5L210.5 277.8L208.7 279.4L207.5 280.6L207.1 280.9L206 282L205 282.3L204.5 282.9L202.8 283.8L201.5 285.1L200.7 285.3L200 286L198.3 286.8L197 288.1L195.4 288.3L192.5 291.1L191 291.3L189.5 292.7L189.2 292.8L188 294L186.5 294.3L185 295.7L183.5 295.8L183.2 297.3L183.2 298.7Z" fill="#e04728" fill-rule="evenodd"/>
<path d="M204.5 286.8L207.5 284L207.9 283.8L209 282.9L210.5 282.5L210.9 282.3L212.6 280.9L213.5 279.8L215 279.9L218 279.4L219.5 279.1L224 277.1L228.5 274.8L237.6 269L239.1 267.8L245.1 262.4L254.1 254.9L267.6 244.5L273.6 240.1L284.1 232.8L293.1 226.9L300.6 222.4L300.6 218.2L285.1 218.2L284.1 219.2L282.6 219.6L279.6 222.5L279.3 222.7L278.1 223.9L276.6 224.1L273.6 227L273.2 227.2L272.1 228.2L270.6 228.6L267.6 231.4L266.1 231.6L263.1 234.5L262.7 234.6L261.6 235.7L260.1 236L255.6 240.3L254.7 240.6L254.1 241.1L252.6 242L243.6 250.7L243.1 251L242.1 252L241 252.5L240.6 253L239.1 253.9L233 259.8L232.7 260L231.5 261L230 261.4L224 267.2L223.6 267.4L222.5 268.5L221.9 268.9L221 269.7L220.1 270.4L218.4 271.9L213.5 276.8L212 277.6L210.5 277.9L208.9 279.4L206 282.3L205.8 282.3L204.5 283.8L204 283.8L204 286.8Z" fill="#de3826" fill-rule="evenodd"/>
<path d="M210.5 282.4L212.3 280.9L213.5 279.5L215 279.6L218 279.1L219.5 278.7L224 276.8L227 275.3L230 273.6L237.2 268.9L239.1 267.5L245.1 262.1L254.1 254.6L267.6 244.2L273.6 239.8L284.1 232.5L293.1 226.6L300.6 222L300.6 218.2L285.2 218.2L284.1 219.3L282.6 219.7L278.1 223.9L276.6 224.1L273.6 227L273.3 227.2L272.1 228.3L270.6 228.6L267.6 231.4L266.1 231.6L263.1 234.5L262.8 234.6L261.6 235.8L260.1 236.1L255.6 240.4L254.9 240.6L254.1 241.3L252.6 242L245.1 249.4L242.1 252.1L241.2 252.5L240.6 253.1L239.1 254L233 259.8L232.7 260L231.5 261.1L230 261.4L224 267.2L218.6 271.9L213.5 276.9L212 277.7L211.2 277.9L210.5 278.5L209.1 279.4L209.2 282.3Z" fill="#dc2923" fill-rule="evenodd"/>
<path d="M213.5 279.2L215 279.3L218 278.8L219.5 278.4L221 277.8L224 276.5L227 275L229.8 273.4L236.7 268.9L238.7 267.4L240.5 265.9L246.6 260.5L254.1 254.3L263.1 247.3L266.2 245.1L269.1 242.8L275.1 238.5L284.1 232.2L293.1 226.3L300.6 221.7L300.6 218.2L285.3 218.2L284.1 219.4L282.6 219.7L278.1 224L276.6 224.2L273.6 227.1L273.4 227.2L272.1 228.4L270.6 228.6L267.6 231.5L266.1 231.6L261.6 235.9L260.1 236.1L255.6 240.4L255 240.6L254.1 241.5L252.6 242.1L245.1 249.4L242.1 252.2L241.4 252.5L240.6 253.3L239.1 254L233 259.9L232.8 260L231.5 261.2L230 261.5L224 267.3L218.8 271.9L213.5 277.1L212.1 277.9Z" fill="#fff" fill-rule="evenodd"/>
</g></g>
<rect x="175.2" y="218.9" width="124.7" height="123.9" fill="none" stroke="#a0a0a0" stroke-width="0.5"/>
<path d="M177.5 342.8v-2.0M177.5 218.9v2.0M175.2 340.5h2.0M299.9 340.5h-2.0M185.0 342.8v-1.2M185.0 218.9v1.2M175.2 333.0h1.2M299.9 333.0h-1.2M192.5 342.8v-1.2M192.5 218.9v1.2M175.2 325.6h1.2M299.9 325.6h-1.2M200.0 342.8v-1.2M200.0 218.9v1.2M175.2 318.1h1.2M299.9 318.1h-1.2M207.5 342.8v-2.0M207.5 218.9v2.0M175.2 310.7h2.0M299.9 310.7h-2.0M215.0 342.8v-1.2M215.0 218.9v1.2M175.2 303.2h1.2M299.9 303.2h-1.2M222.5 342.8v-1.2M222.5 218.9v1.2M175.2 295.8h1.2M299.9 295.8h-1.2M230.0 342.8v-1.2M230.0 218.9v1.2M175.2 288.3h1.2M299.9 288.3h-1.2M237.6 342.8v-2.0M237.6 218.9v2.0M175.2 280.9h2.0M299.9 280.9h-2.0M245.1 342.8v-1.2M245.1 218.9v1.2M175.2 273.4h1.2M299.9 273.4h-1.2M252.6 342.8v-1.2M252.6 218.9v1.2M175.2 265.9h1.2M299.9 265.9h-1.2M260.1 342.8v-1.2M260.1 218.9v1.2M175.2 258.5h1.2M299.9 258.5h-1.2M267.6 342.8v-2.0M267.6 218.9v2.0M175.2 251.0h2.0M299.9 251.0h-2.0M275.1 342.8v-1.2M275.1 218.9v1.2M175.2 243.6h1.2M299.9 243.6h-1.2M282.6 342.8v-1.2M282.6 218.9v1.2M175.2 236.1h1.2M299.9 236.1h-1.2M290.1 342.8v-1.2M290.1 218.9v1.2M175.2 228.7h1.2M299.9 228.7h-1.2M297.6 342.8v-2.0M297.6 218.9v2.0M175.2 221.2h2.0M299.9 221.2h-2.0" stroke="#8a8a8a" stroke-width="0.4" fill="none"/>
<text x="177.0" y="354.9" font-size="10.3" text-anchor="middle" class="tk">−2</text>
<text x="173.6" y="344.2" font-size="10.3" text-anchor="end" class="tk">−2</text>
<text x="207.0" y="354.9" font-size="10.3" text-anchor="middle" class="tk">−1</text>
<text x="173.6" y="314.4" font-size="10.3" text-anchor="end" class="tk">−1</text>
<text x="237.9" y="354.9" font-size="10.3" text-anchor="middle" class="tk">0</text>
<text x="173.6" y="284.6" font-size="10.3" text-anchor="end" class="tk">0</text>
<text x="267.9" y="354.9" font-size="10.3" text-anchor="middle" class="tk">1</text>
<text x="173.6" y="254.7" font-size="10.3" text-anchor="end" class="tk">1</text>
<text x="297.9" y="354.9" font-size="10.3" text-anchor="middle" class="tk">2</text>
<text x="173.6" y="224.9" font-size="10.3" text-anchor="end" class="tk">2</text>
<text x="237.3" y="371.6" font-size="14.5" text-anchor="middle" class="tk">x</text>
<text transform="translate(153.8,280.9) rotate(-90)" font-size="14.5" text-anchor="middle" class="tk">t</text>
<defs><linearGradient id="rbv" x1="0" y1="0" x2="0" y2="1"><stop offset="0.0000" stop-color="#db2122"/><stop offset="0.1250" stop-color="#e78232"/><stop offset="0.2500" stop-color="#deae3c"/><stop offset="0.3750" stop-color="#b4bd4c"/><stop offset="0.5000" stop-color="#7db874"/><stop offset="0.6250" stop-color="#5aa8a0"/><stop offset="0.7150" stop-color="#488ac5"/><stop offset="0.7500" stop-color="#4584c8"/><stop offset="0.8750" stop-color="#3e4acc"/><stop offset="0.9400" stop-color="#5820ac"/><stop offset="1.0000" stop-color="#781c86"/></linearGradient></defs>
<rect x="306.2" y="248.6" width="6.0" height="88.2" fill="url(#rbv)"/>
<path d="M310.7 336.80h1.5" stroke="#333" stroke-width="0.4"/>
<text x="315.2" y="340.5" font-size="10.3" class="tk">0</text>
<path d="M310.7 316.71h1.5" stroke="#333" stroke-width="0.4"/>
<text x="315.2" y="320.4" font-size="10.3" class="tk">2</text>
<path d="M310.7 296.62h1.5" stroke="#333" stroke-width="0.4"/>
<text x="315.2" y="300.3" font-size="10.3" class="tk">4</text>
<path d="M310.7 276.53h1.5" stroke="#333" stroke-width="0.4"/>
<text x="315.2" y="280.2" font-size="10.3" class="tk">6</text>
<path d="M310.7 256.44h1.5" stroke="#333" stroke-width="0.4"/>
<text x="315.2" y="260.1" font-size="10.3" class="tk">8</text>
</g>
<g id="plot3d" stroke-linejoin="round">
<path d="M35.1 117L84.6 64M28.2 94.3L118.7 127.4M28.2 94.3L24 62.3M84.6 64L85.7 34.7M57.9 125.9L104.7 70.2M41.7 81.1L129.3 111.5M41.7 81.1L39 50.3M104.7 70.2L106.8 40.3M81.8 135.2L125.7 76.8M54 69.1L138.8 96.9M54 69.1L52.6 39.3M125.7 76.8L128.4 46M12.1 101.1L65.3 51.5M65.3 51.5L148.3 76.4M10.8 93.6L65.2 44.9M65.2 44.9L149 69.1M9.4 86L65.1 38.4M65.1 38.4L149.7 61.9M8 78.5L65 31.8M65 31.8L150.3 54.6" stroke="#b4b4b4" stroke-width="0.45" fill="none"/>
<path d="M13.5 108.6L7.5 75.6L65 29.3L150.6 51.8L147.6 83.6L107.1 145.1L13.5 108.6M65 29.3L65.4 58M65.4 58L13.5 108.6M65.4 58L147.6 83.6" stroke="#3a3a3a" stroke-width="0.5" fill="none"/>
<path d="M11.8 99.1L22 103.1L29.4 105.8L38 108.6L43.7 110.7L50.6 113.3L59.5 116.8L107.5 134.3L107.5 134.3L130.2 101.2L136.9 90.9L140.8 84.2L142.1 81.4L143.5 77.9L144.8 74.2L146.3 69.8L149.9 52.7L149.9 52.7L136.9 53.3L120.9 54.4L105.5 55.9L90.5 57.7L87.9 57.9L79 58.2L75.4 58.2L71.9 58L69.7 57.8L67.6 57.4L66.7 57.2L66 56.6L65.1 58.4L63.9 59.9L59.9 60.4L58.7 60.5L56.4 60.5L48.7 60.1L39.7 60.6L32 60.9L32.7 67.3L31.3 62.5L30.7 64.3L29.2 72.7L28.6 74.6L26.7 79.5L22.6 87.1L16.6 94.3L11.8 99.1Z" fill="#4a94e4"/>
<path d="M11.8 99.1L19.2 102L24.6 101.7L25.9 101.7L26.9 101.9L27.8 102.3L28.6 102.8L29.3 103.3L30 103.9L30.6 104.6L31.5 106.2L32.3 106.8L38 108.6L43.7 110.7L56.5 115.6L57.9 115.5L70.6 112.9L76.6 111.9L82.4 111.2L92.1 110.3L96.5 109.5L99.6 108.8L102.8 107.9L117.4 103.6L122 102.3L126.4 101.4L130.5 100.8L130.5 100.8L136.8 91L141.1 83.6L141.8 82.2L144.4 75.6L146.4 69.2L149.9 52.7L149.9 52.7L136.9 53.3L120.9 54.4L105.5 55.9L90.5 57.7L87.9 57.9L79 58.2L75.4 58.2L71.9 58L69.7 57.8L67.6 57.4L66.7 57.2L66 56.6L65.1 58.4L63.9 59.9L59.9 60.4L58.7 60.5L56.4 60.5L48.7 60.1L39.7 60.6L32 60.9L32.7 67.3L31.3 62.5L30.7 64.3L29.2 72.7L28.6 74.6L26.7 79.5L22.6 87.1L16.6 94.3L11.8 99.1Z" fill="#4c96e2"/>
<path d="M15.6 95.2L31.7 94.2L33 94.2L34 94.4L35 94.6L36.8 95.3L37.6 95.8L39 96.8L39.7 97.4L40.9 98.7L41.5 99.4L42.9 101.9L43.6 102.5L48.5 103.9L50.7 104.3L53.1 104.5L55.8 104.3L61.4 103.7L70.3 102.3L84.5 100.4L91.3 99.7L100.6 99L103.3 98.6L106.2 98.2L110.5 97.3L123.8 94.2L128.1 93.3L132.2 92.6L136.1 92.1L136.1 92.1L137 90.8L141.2 83.4L144.4 75.5L146.3 69.8L149.9 52.7L149.9 52.7L136.9 53.3L120.9 54.4L105.5 55.9L90.5 57.7L87.9 57.9L79 58.2L75.4 58.2L71.9 58L69.7 57.8L67.6 57.4L66.7 57.2L66 56.6L65.1 58.4L63.9 59.9L59.9 60.4L58.7 60.5L56.4 60.5L48.7 60.1L39.7 60.6L32 60.9L32.7 67.3L31.4 62.2L30.9 63.6L30.4 65.7L29.2 72.8L28.7 74.3L27.1 78.6L26.6 79.8L22.6 87.1L16.9 93.9L15.6 95.2Z" fill="#509dd9"/>
<path d="M19.4 90.9L35.3 89.9L36.6 89.9L37.7 90L38.7 90.2L40.6 90.8L43.1 92L45.3 93.4L46 94L47.9 95.9L48.7 96.4L49.8 96.5L54.2 97.1L56.6 97.3L59.1 97.3L67.2 96.6L75.7 95.4L87.9 94.1L95.9 93.4L104.9 92.8L107.6 92.5L114.5 91.4L131.2 88.2L135.2 87.6L139 87.2L139 87.2L141.3 83.3L141.6 82.5L144.4 75.5L146.2 70L149.9 52.7L149.9 52.7L136.9 53.3L120.9 54.4L105.5 55.9L90.5 57.7L87.9 57.9L79 58.2L75.4 58.2L71.9 58L69.7 57.8L67.6 57.4L66.7 57.2L66 56.6L65.1 58.4L63.9 59.9L59.9 60.4L58.7 60.5L56.4 60.5L48.7 60.1L39.7 60.6L32 60.9L32.7 67.3L31.5 62L30.7 64.3L29 73.4L26.9 79L22.4 87.4L19.4 90.9Z" fill="#54a5ce"/>
<path d="M22.5 87.3L38.3 86.3L39.5 86.2L40.7 86.3L43.7 87L46.4 87.9L48.1 88.6L49.7 89.5L51.9 91L52.8 91.3L54.1 91.3L58.8 91.5L62.5 91.5L65.2 91.3L71.9 90.7L80.1 89.8L95.7 88.5L107.2 87.7L111 87.4L117.7 86.5L133.8 84L137.6 83.5L141.4 83.1L141.4 83.1L144.2 75.9L146.1 70.2L146.4 69.1L149.9 52.7L149.9 52.7L136.9 53.3L120.9 54.4L105.5 55.9L90.5 57.7L87.9 57.9L79 58.2L75.4 58.2L71.9 58L69.7 57.8L67.6 57.4L66.7 57.2L66 56.6L65.1 58.4L63.9 59.9L59.9 60.4L58.7 60.5L56.4 60.5L48.7 60.1L39.7 60.6L32 60.9L32.7 67.3L31.6 61.7L30.9 63.4L30.6 64.5L29.1 73.3L26.8 79.4L22.5 87.3Z" fill="#59aec2"/>
<path d="M23.6 85.2L39.3 84.3L40.6 84.2L41.7 84.3L43.8 84.7L45.7 85.2L47.6 85.8L49.3 86.4L51 87.3L53.1 89L54 89.4L59.8 89.7L63.5 89.8L66.1 89.6L72.8 89L87.6 87.4L111.8 85.7L118.4 84.9L134.4 82.5L138.2 82.1L141.9 81.7L141.9 81.7L144.3 75.7L146.4 69.5L149.9 52.7L149.9 52.7L136.9 53.3L120.9 54.4L105.5 55.9L90.5 57.7L87.9 57.9L79 58.2L75.4 58.2L71.9 58L69.7 57.8L67.6 57.4L66.7 57.2L66 56.6L65.1 58.4L63.9 59.9L59.9 60.4L58.7 60.5L56.4 60.5L48.7 60.1L39.7 60.6L32 60.9L32.7 67.3L31.7 61.6L30.8 63.9L29.1 73.1L26.8 79.4L23.6 85.2Z" fill="#60b6b6"/>
<path d="M24.7 83.2L40.4 82.3L41.6 82.2L42.8 82.3L44.8 82.7L46.8 83.1L48.7 83.6L50.5 84.2L51.4 84.6L52.2 85.1L54.3 87L55.1 87.4L59.8 87.8L60.9 88L64.5 88.1L67 88L73.7 87.4L88.6 85.6L110.1 84.3L113.9 84L120.5 83.2L134.9 81.1L138.8 80.7L142.5 80.4L142.5 80.4L144.5 75.3L146.3 69.6L149.9 52.7L149.9 52.7L136.9 53.3L120.9 54.4L105.5 55.9L90.5 57.7L87.9 57.9L79 58.2L75.4 58.2L71.9 58L69.7 57.8L67.6 57.4L66.7 57.2L66 56.6L65.1 58.4L63.9 59.9L59.9 60.4L58.7 60.5L56.4 60.5L48.7 60.1L39.7 60.6L32 60.9L32.7 67.3L31.7 61.5L30.9 63.5L30.7 64.5L29.2 72.6L29 73.5L26.9 79.1L24.7 83.2Z" fill="#68baaa"/>
<path d="M25.8 81.2L41.4 80.3L42.7 80.3L43.8 80.3L47.9 81.1L51.8 82.1L52.6 82.5L53.4 83L54.1 83.6L55.4 85L56.3 85.5L60.9 86L61.9 86.2L64.2 86.3L66.7 86.3L71.9 86L77.2 85.5L81.3 85L89.6 83.8L110.9 82.6L114.7 82.3L121.2 81.6L135.5 79.7L139.3 79.3L143 79L143 79L144.4 75.4L146.4 69.4L149.9 52.7L149.9 52.7L136.9 53.3L120.9 54.4L105.5 55.9L90.5 57.7L87.9 57.9L79 58.2L75.4 58.2L71.9 58L69.7 57.8L67.6 57.4L66.7 57.2L66 56.6L65.1 58.4L63.9 59.9L59.9 60.4L58.7 60.5L56.4 60.5L48.7 60.1L39.7 60.6L32 60.9L32.7 67.3L31.7 61.5L30.8 63.7L29.2 72.7L29 73.5L27 78.9L25.8 81.2Z" fill="#70be9f"/>
<path d="M26.9 79.2L43.7 78.3L45.9 78.5L48 78.8L51 79.4L53 79.9L53.9 80.3L54.7 80.8L55.3 81.5L56.6 83L57.4 83.5L59.7 83.9L62 84.2L62.9 84.5L65.2 84.6L67.6 84.7L72.7 84.4L79.4 83.7L82.2 83.4L90.6 82L111.7 81L116.8 80.6L121.9 80L136.1 78.3L143.6 77.6L143.6 77.6L144.5 75.2L146.2 69.9L146.4 69.1L149.9 52.7L149.9 52.7L136.9 53.3L120.9 54.4L105.5 55.9L90.5 57.7L87.9 57.9L79 58.2L75.4 58.2L71.9 58L69.7 57.8L67.6 57.4L66.7 57.2L66 56.6L65.1 58.4L63.9 59.9L59.9 60.4L58.7 60.5L56.4 60.5L48.7 60.1L39.7 60.6L32 60.9L32.7 67.3L31.8 61.4L30.8 63.8L29.1 73L26.9 79.2Z" fill="#78c293"/>
<path d="M27.4 77.7L44.1 77L46.3 77.2L51.5 78.1L53.4 78.5L54.4 78.9L55.3 79.3L56.1 79.9L57.6 81.3L58.4 81.8L60.7 82.4L62.9 82.6L63.8 83L66 83.2L68.4 83.3L73.5 83L81.5 82.2L91.4 80.6L111.2 79.7L116.2 79.3L122.5 78.7L136.6 77.1L144 76.5L144 76.5L146.3 69.7L149.9 52.7L149.9 52.7L136.9 53.3L120.9 54.4L105.5 55.9L90.5 57.7L87.9 57.9L79 58.2L75.4 58.2L71.9 58L69.7 57.8L67.6 57.4L66.7 57.2L66 56.6L65.1 58.4L63.9 59.9L59.9 60.4L58.7 60.5L56.4 60.5L48.7 60.1L39.7 60.6L32 60.9L32.7 67.3L31.8 61.3L30.7 64L29.1 73.1L27.4 77.7Z" fill="#80c688"/>
<path d="M28 76.2L44.5 75.6L46.7 75.8L49.8 76.3L52.9 76.9L53.9 77.1L54.9 77.5L55.7 77.9L56.6 78.6L58.1 80L58.9 80.6L61.3 81.1L62.6 81.1L63.6 81.3L64.5 81.7L65.5 81.8L67.8 82L70.2 82L74.1 81.8L82.1 81L84.9 80.5L90.7 79.4L92.1 79.2L111.8 78.4L116.8 78.1L123.1 77.5L137.1 76L144.4 75.4L144.4 75.4L146.4 69.3L149.9 52.7L149.9 52.7L136.9 53.3L120.9 54.4L105.5 55.9L90.5 57.7L87.9 57.9L79 58.2L75.4 58.2L71.9 58L69.7 57.8L67.6 57.4L66.7 57.2L66 56.6L65.1 58.4L63.9 59.9L59.9 60.4L58.7 60.5L56.4 60.5L48.7 60.1L39.7 60.6L32 60.9L32.7 67.3L31.8 61.3L30.7 64.1L29.2 72.8L29 73.4L28 76.2Z" fill="#8cc77d"/>
<path d="M28.6 74.7L44.9 74.3L47.1 74.5L50.2 75L54.4 75.7L55.3 76.1L56.2 76.6L57.1 77.2L58.6 78.8L59.4 79.5L61.6 80.2L63.8 80.5L64.6 80.9L66.8 81.2L69.2 81.2L71.7 81.2L74.3 81L82.3 80.2L85.1 79.8L92.3 78.5L117.2 77L123.6 76.4L137.4 75L144.8 74.4L144.8 74.4L146.4 69.1L149.9 52.7L149.9 52.7L136.9 53.3L120.9 54.4L105.5 55.9L90.5 57.7L87.9 57.9L79 58.2L75.4 58.2L71.9 58L69.7 57.8L67.6 57.4L66.7 57.2L66 56.6L65.1 58.4L63.9 59.9L59.9 60.4L58.7 60.5L56.4 60.5L48.7 60.1L39.7 60.6L32 60.9L32.7 67.3L31.8 61.2L30.8 63.9L29.2 72.7L29.1 73.3L28.6 74.7Z" fill="#98c873"/>
<path d="M29.1 73.2L36.5 73.1L45.3 73L48.5 73.3L54.8 74.3L55.8 74.7L56.7 75.2L57.6 75.9L58.4 76.7L59.8 78.4L60.9 78.9L61.9 79.3L64 79.8L64.8 80.1L67 80.4L69.4 80.4L74.5 80.2L82.5 79.4L85.3 79L92.5 77.7L101.4 77L116.4 76L136.6 74.1L141.5 73.7L145.1 73.5L145.1 73.5L146.3 69.7L149.9 52.7L149.9 52.7L136.9 53.3L120.9 54.4L105.5 55.9L90.5 57.7L87.9 57.9L79 58.2L75.4 58.2L71.9 58L69.7 57.8L67.6 57.4L66.7 57.2L66 56.6L65.1 58.4L63.9 59.9L59.9 60.4L58.7 60.5L56.4 60.5L48.7 60.1L39.7 60.6L32 60.9L32.7 67.3L31.8 61.2L30.8 63.7L30.7 64.2L29.1 73.2Z" fill="#a5ca69"/>
<path d="M29.3 72L36.7 72L45.5 71.8L48.8 72.2L55.1 73.1L56.1 73.4L58 74.6L58.9 75.4L60.3 77.3L62.2 78.4L64.2 79L65 79.4L67.2 79.6L69.6 79.7L74.7 79.4L82.7 78.6L85.5 78.2L92.7 76.9L97.9 76.4L118.1 74.8L136.9 73.1L141.8 72.7L145.4 72.6L145.4 72.6L146.4 69.2L149.9 52.7L149.9 52.7L136.9 53.3L120.9 54.4L105.5 55.9L90.5 57.7L87.9 57.9L79 58.2L75.4 58.2L71.9 58L69.7 57.8L67.6 57.4L66.7 57.2L66 56.6L65.1 58.4L63.9 59.9L59.9 60.4L58.7 60.5L56.4 60.5L48.7 60.1L39.7 60.6L32 60.9L32.7 67.3L31.9 61.2L30.8 63.8L29.3 72Z" fill="#b1cb5e"/>
<path d="M29.5 70.8L37 70.8L45.7 70.6L49 71L55.4 71.9L56.4 72.2L57.4 72.8L58.3 73.5L59.2 74.2L60.1 75.1L60.7 76.1L62.5 77.5L65.2 78.6L67.4 78.8L69.8 78.9L74.9 78.7L82.9 77.8L85.7 77.4L92.9 76.1L102.1 75.1L117.3 73.9L136.1 72.1L140.9 71.8L145.7 71.6L145.7 71.6L146.4 69.3L149.9 52.7L149.9 52.7L136.9 53.3L120.9 54.4L105.5 55.9L90.5 57.7L87.9 57.9L79 58.2L75.4 58.2L71.9 58L69.7 57.8L67.6 57.4L66.7 57.2L66 56.6L65.1 58.4L63.9 59.9L59.9 60.4L58.7 60.5L56.4 60.5L48.7 60.1L39.7 60.6L32 60.9L32.7 67.3L31.9 61.1L30.8 63.8L29.5 70.8Z" fill="#bcc957"/>
<path d="M29.7 69.7L37.2 69.6L46 69.4L49.3 69.8L55.7 70.6L56.7 71L57.7 71.6L58.6 72.4L59.5 73.2L61.1 75.1L62.8 76.6L63.6 77.1L65.4 77.9L67.6 78.1L70 78.1L75.1 77.9L83.1 77.1L85.9 76.7L93.1 75.4L98.5 74.7L103.7 74.1L134 71.4L140.1 70.9L146 70.7L146 70.7L146.4 69.2L149.9 52.7L149.9 52.7L136.9 53.3L120.9 54.4L105.5 55.9L90.5 57.7L87.9 57.9L79 58.2L75.4 58.2L71.9 58L69.7 57.8L67.6 57.4L66.7 57.2L66 56.6L65.1 58.4L63.9 59.9L59.9 60.4L58.7 60.5L56.4 60.5L48.7 60.1L39.7 60.6L32 60.9L32.7 67.3L31.9 61.1L30.7 64L29.7 69.7Z" fill="#c6c653"/>
<path d="M29.9 68.5L37.4 68.5L46.2 68.3L49.5 68.6L56 69.4L57 69.8L57.9 70.5L58.9 71.3L59.7 72.2L61.3 74.2L63 75.8L63.8 76.4L65.5 77.1L66.6 77.2L69 77.3L71.4 77.3L75.3 77.1L83.3 76.3L86.1 75.9L93.3 74.7L98.8 73.8L102.8 73.3L109.2 72.6L134.4 70.4L140.4 70L146.3 69.8L146.3 69.8L149.9 52.7L149.9 52.7L136.9 53.3L120.9 54.4L105.5 55.9L90.5 57.7L87.9 57.9L79 58.2L75.4 58.2L71.9 58L69.7 57.8L67.6 57.4L66.7 57.2L66 56.6L65.1 58.4L63.9 59.9L59.9 60.4L58.7 60.5L56.4 60.5L48.7 60.1L39.7 60.6L32 60.9L32.7 67.3L31.9 61.1L30.8 63.8L29.9 68.5Z" fill="#cfc24f"/>
<path d="M30.1 67.3L37.6 67.3L46.5 67.1L50.9 67.5L56.3 68.2L57.3 68.6L58.2 69.3L60 71.1L61.5 73.3L63.2 75L64 75.6L65.7 76.3L66.8 76.5L69.2 76.6L71.6 76.6L75.5 76.4L83.5 75.6L86.3 75.2L92 74.2L99 73.1L103 72.6L110.7 71.8L127.2 70.2L134.6 69.6L140.6 69.2L146.4 69.1L146.4 69.1L149.9 52.7L149.9 52.7L136.9 53.3L120.9 54.4L105.5 55.9L90.5 57.7L87.9 57.9L79 58.2L75.4 58.2L71.9 58L69.7 57.8L67.6 57.4L66.7 57.2L66 56.6L65.1 58.4L63.9 59.9L59.9 60.4L58.7 60.5L56.4 60.5L48.7 60.1L39.7 60.6L32 60.9L32.7 67.3L31.9 61.1L30.8 63.8L30.1 67.3Z" fill="#d9be4b"/>
<path d="M30.4 66.2L37.8 66.1L46.7 65.9L51.1 66.3L56.6 67L57.6 67.4L58.5 68.1L60.3 70.1L61.7 72.5L63.4 74.2L64.2 74.8L65.9 75.6L67 75.7L69.4 75.8L71.8 75.8L75.7 75.6L83.7 74.9L86.4 74.5L92.2 73.4L99.1 72.4L103.1 71.9L110.9 71.1L127.3 69.5L134.7 68.9L140.8 68.6L146.6 68.4L146.6 68.4L149.9 52.7L149.9 52.7L136.9 53.3L120.9 54.4L105.5 55.9L90.5 57.7L87.9 57.9L79 58.2L75.4 58.2L71.9 58L69.7 57.8L67.6 57.4L66.7 57.2L66 56.6L65.1 58.4L63.9 59.9L59.9 60.4L58.7 60.5L56.4 60.5L48.7 60.1L39.7 60.6L32 60.9L32.7 67.3L31.9 61L30.8 63.8L30.4 66.2Z" fill="#e1ba47"/>
<path d="M30.6 65L38.1 65L46.9 64.8L51.4 65.2L56.9 65.8L57.9 66.2L58.8 67L59.7 68L60.5 69.1L62 71.6L63.6 73.4L64.4 74.1L66.1 74.8L67.2 74.9L69.6 75L72 75L75.9 74.9L83.8 74.1L86.6 73.7L92.3 72.7L99.3 71.7L103.3 71.2L111.1 70.4L133.7 68.3L140.9 67.9L146.7 67.7L146.7 67.7L149.9 52.7L149.9 52.7L136.9 53.3L120.9 54.4L105.5 55.9L90.5 57.7L87.9 57.9L79 58.2L75.4 58.2L71.9 58L69.7 57.8L67.6 57.4L66.7 57.2L66 56.6L65.1 58.4L63.9 59.9L59.9 60.4L58.7 60.5L56.4 60.5L48.7 60.1L39.7 60.6L32 60.9L32.7 67.3L31.9 61L30.8 63.8L30.6 65Z" fill="#e3af44"/>
<path d="M30.8 63.8L38.3 63.8L47.2 63.6L57.2 64.5L58.2 65L59.1 65.8L60 66.8L60.8 68L62.2 70.6L63.9 72.5L64.7 73.2L66.4 73.9L68.6 74.1L72.3 74.1L74.8 74L84.1 73.3L86.8 72.9L95.3 71.5L102.1 70.5L110 69.7L125.2 68.3L137.5 67.3L142.3 67L146.9 66.9L146.9 66.9L149.9 52.7L149.9 52.7L136.9 53.3L120.9 54.4L105.5 55.9L90.5 57.7L87.9 57.9L79 58.2L75.4 58.2L71.9 58L69.7 57.8L67.6 57.4L66.7 57.2L66 56.6L65.1 58.4L63.9 59.9L59.9 60.4L58.7 60.5L56.4 60.5L48.7 60.1L39.7 60.6L32 60.9L32.7 67.3L31.9 61L30.8 63.8Z" fill="#e5a442"/>
<path d="M31.7 62.1L48.1 61.9L57.9 63L58.8 63.5L61.1 66.8L62.5 69.5L64.2 71.4L65 72.1L66.7 72.8L68.9 73L72.6 73L75.1 72.9L84.3 72.2L87.1 71.8L97 70.2L102.4 69.5L110.2 68.7L125.4 67.3L137.7 66.3L142.5 66L147.1 65.9L147.1 65.9L149.9 52.7L149.9 52.7L136.9 53.3L120.9 54.4L105.5 55.9L90.5 57.7L87.9 57.9L79 58.2L75.4 58.2L71.9 58L69.7 57.8L67.6 57.4L66.7 57.2L66 56.6L65.1 58.4L63.9 59.9L59.9 60.4L58.7 60.5L56.4 60.5L48.7 60.1L39.7 60.6L32 60.9L32.7 67.3L31.9 60.9L31.6 61.7Z" fill="#e79a3f"/>
<path d="M32 60.9L48.7 60.4L58.6 61.4L59.5 62L60.2 63L60.7 64.3L62.8 68.3L64.4 70.3L65.2 71L67 71.7L69.2 71.9L72.9 71.9L75.4 71.8L84.6 71.1L87.3 70.8L97.2 69.2L102.6 68.5L110.4 67.7L125.6 66.3L137.9 65.3L142.7 65.1L147.3 64.9L147.3 64.9L149.9 52.7L149.9 52.7L136.9 53.3L120.9 54.4L105.5 55.9L90.5 57.7L87.9 57.9L79 58.2L75.4 58.2L71.9 58L69.7 57.8L67.6 57.4L66.7 57.2L66 56.6L65.1 58.4L63.9 59.9L59.9 60.4L58.7 60.5L56.4 60.5L48.7 60.1L39.7 60.6L32 60.9L32.7 67.3L32.7 67.3Z" fill="#e98f3c"/>
<path d="M32 60.9L39.7 60.6L48.7 60.1L55.3 60.5L58.7 60.5L59.9 60.7L60.9 61.4L61.5 62.8L61.8 64.4L62.4 65.8L63.1 67.2L64.7 69.2L65.5 69.9L67.3 70.6L70.7 70.8L73.2 70.8L77 70.7L84.9 70.1L87.6 69.7L97.4 68.2L102.8 67.5L110.6 66.6L124.6 65.4L138.1 64.3L142.9 64.1L147.5 64L147.5 64L149.9 52.7L149.9 52.7L136.9 53.3L120.9 54.4L105.5 55.9L90.5 57.7L87.9 57.9L79 58.2L75.4 58.2L71.9 58L69.7 57.8L67.6 57.4L66.7 57.2L66 56.6L65.1 58.4L63.9 59.9L59.9 60.4L58.7 60.5L56.4 60.5L48.7 60.1L39.7 60.6L32 60.9L32.7 67.3L32.7 67.3Z" fill="#de7636"/>
<path d="M32 60.9L39.7 60.6L48.7 60.1L56.4 60.5L58.7 60.5L61.2 60.3L62.2 61.2L62.8 64.7L63.4 66.1L65 68.1L65.8 68.8L67.6 69.5L69.8 69.7L72.2 69.7L77.2 69.6L85.1 69L87.8 68.7L94.9 67.6L103.1 66.4L110.9 65.6L122.3 64.6L137.1 63.4L143.1 63.1L147.7 63L147.7 63L149.9 52.7L149.9 52.7L136.9 53.3L120.9 54.4L105.5 55.9L90.5 57.7L87.9 57.9L79 58.2L75.4 58.2L71.9 58L69.7 57.8L67.6 57.4L66.7 57.2L66 56.6L65.1 58.4L63.9 59.9L59.9 60.4L58.7 60.5L56.4 60.5L48.7 60.1L39.7 60.6L32 60.9L32.7 67.3L32.7 67.3Z" fill="#d35c30"/>
<path d="M32 60.9L39.7 60.6L48.7 60.1L55.3 60.5L58.7 60.5L59.9 60.4L62.5 60.1L63.5 60.5L63.6 62.2L64 63.6L64.9 64.6L65.7 65.4L66.6 65.9L68.4 66.6L70.6 66.7L74.3 66.8L78 66.7L87.1 66.1L95.5 64.8L103.7 63.8L111.5 63L122.9 62L137.7 60.8L143.6 60.5L148.3 60.4L148.3 60.4L149.9 52.7L149.9 52.7L136.9 53.3L120.9 54.4L105.5 55.9L90.5 57.7L87.9 57.9L79 58.2L75.4 58.2L71.9 58L69.7 57.8L67.6 57.4L66.7 57.2L66 56.6L65.1 58.4L63.9 59.9L59.9 60.4L58.7 60.5L56.4 60.5L48.7 60.1L39.7 60.6L32 60.9L32.7 67.3L32.7 67.3Z" fill="#c8432b"/>
<path d="M32 60.9L39.7 60.6L48.7 60.1L55.3 60.5L58.7 60.5L59.9 60.4L63.9 59.9L64.7 59.1L65 60.3L65.7 61.1L66.6 61.6L67.5 62L68.5 62.2L69.5 62.5L71.8 62.7L75.3 62.7L79.1 62.7L88.1 62.2L104.5 60L121.2 58.5L137.2 57.3L143.2 56.9L149.1 56.7L149.1 56.7L149.9 52.7L149.9 52.7L136.9 53.3L120.9 54.4L105.5 55.9L90.5 57.7L87.9 57.9L79 58.2L75.4 58.2L71.9 58L69.7 57.8L67.6 57.4L66.7 57.2L66 56.6L65.1 58.4L63.9 59.9L59.9 60.4L58.7 60.5L56.4 60.5L48.7 60.1L39.7 60.6L32 60.9L32.7 67.3L32.7 67.3Z" fill="#c52e27"/>
<path d="M32 60.9L39.7 60.6L48.7 60.1L56.4 60.5L58.7 60.5L59.9 60.4L63.9 59.9L65.1 58.4L65.9 57L66.6 57.6L67.5 57.9L69.5 58.3L71.7 58.5L75.2 58.7L78.9 58.7L87.8 58.4L90.4 58.1L105.4 56.3L119.5 55L135.6 53.8L142.8 53.4L149.8 53.1L149.8 53.1L149.9 52.7L149.9 52.7L136.9 53.3L120.9 54.4L105.5 55.9L90.5 57.7L87.9 57.9L79 58.2L75.4 58.2L71.9 58L69.7 57.8L67.6 57.4L66.7 57.2L66 56.6L65.1 58.4L63.9 59.9L59.9 60.4L58.7 60.5L56.4 60.5L48.7 60.1L39.7 60.6L32 60.9L32.7 67.3L32.7 67.3Z" fill="#c42325"/>
<defs><linearGradient id="shd" x1="0" y1="0" x2="1" y2="0"><stop offset="0" stop-color="#3a0a00" stop-opacity="0.38"/><stop offset="0.5" stop-color="#3a0a00" stop-opacity="0.22"/><stop offset="1" stop-color="#3a0a00" stop-opacity="0"/></linearGradient></defs>
<path d="M65.8 56.4L67.1 57.3L68.9 57.7L70.9 58L73 58.1L75.1 58.2L77.3 58.2L79.5 58.2L81.9 58.2L84.2 58L86.5 58L88.8 57.8L91.3 57.6L93.8 57.2L96.3 56.9L98.8 56.6L101.3 56.3L103.7 56L106.1 55.8L108.5 55.5L110.9 55.3L113.2 55.1L115.5 54.9L117.9 54.7L117.4 67.7L115 67.9L112.7 68.1L110.4 68.3L108 68.5L105.6 68.8L103.2 69L100.8 69.3L98.3 69.6L95.8 69.9L93.3 70.2L90.8 70.6L88.3 70.8L86 71L83.7 71L81.4 71.2L79 71.2L76.8 71.2L74.6 71.2L72.5 71.1L70.4 68.8L68.4 66.4L66.6 63.8L65.3 60.8Z" fill="url(#shd)"/>
<path d="M65.8 56.4L67 57.3L68.8 57.7L70.7 57.9L72.6 58.1L74.7 58.2L76.8 58.2L78.9 58.2L81.1 58.2L83.4 58.1L85.6 58L87.8 57.9L90.1 57.7L92.5 57.4L95 57.1L97.4 56.8L99.7 56.5L102.1 56.2L104.4 56L106.8 55.7L109 55.5L111.3 55.3L113.5 55.1L115.8 54.9L118 54.7L120.2 54.5L122.4 54.3L124.6 54.1L126.8 54L129 53.8L131.1 53.7L133.3 53.5L135.4 53.4L137.5 53.2L139.6 53.1L141.7 53L143.8 52.9L145.8 52.8L147.9 52.8L149.9 52.7L150.6 51.8L149 51.4L147.3 50.9L145.6 50.6L143.5 50.8L141.4 50.9L139.3 51.1L137.2 51.2L135.1 51.4L132.9 51.5L130.8 51.7L128.6 51.9L126.5 52L124.3 52.2L122.2 52.3L120 52.5L117.8 52.7L115.6 52.9L113.4 53.1L111.1 53.3L108.8 53.5L106.6 53.7L104.2 54L101.9 54.3L99.5 54.6L97.1 54.9L94.7 55.2L92.3 55.5L90 55.7L87.7 55.9L85.5 56.1L83.2 56.2L80.9 56.4L78.6 56.5L76.4 56.6L74.2 56.7L72 56.7L69.8 56.8L67.7 56.7L65.8 56.4Z" fill="#c9c9c9"/>
<path d="M150.6 51.8L149 51.4L147.3 50.9L145.6 50.6L143.5 50.8L141.4 50.9L139.3 51.1L137.2 51.2L135.1 51.4L132.9 51.5L130.8 51.7L128.6 51.9L126.5 52L124.3 52.2L122.2 52.3L120 52.5L117.8 52.7L115.6 52.9L113.4 53.1L111.1 53.3L108.8 53.5L106.6 53.7L104.2 54L101.9 54.3L99.5 54.6L97.1 54.9L94.7 55.2L92.3 55.5L90 55.7L87.7 55.9L85.5 56.1L83.2 56.2L80.9 56.4L78.6 56.5L76.4 56.6L74.2 56.7L72 56.7L69.8 56.8L67.7 56.7L65.8 56.4" fill="none" stroke="#555" stroke-width="0.45"/>
<path d="M11.8 99.1L12.4 98.5L13 97.9L13.6 97.3L14.2 96.7L14.8 96.1L15.3 95.5L15.9 94.9L16.5 94.3L17.1 93.7L17.7 93L18.2 92.3L18.8 91.7L19.3 91L19.9 90.3L20.5 89.7L21 89L21.6 88.3L22.1 87.7L22.7 86.9L23.2 86L23.7 85L24.2 84.1L24.7 83.2L25.2 82.2L25.7 81.3L26.2 80.4L26.7 79.4L27.2 78.3L27.7 77L28.1 75.8L28.6 74.5L29.1 73.3L29.5 71.2L29.8 69.1L30.2 67L30.6 64.9L31 63.3L31.5 62.1L32.7 67.3M17.3 101.3L18 100.6L18.6 100L19.3 99.3L19.9 98.6L20.5 98L21.2 97.3L21.8 96.6L22.5 96L23.1 95.3L23.7 94.7L24.4 94L25 93.3L25.6 92.6L26.2 91.9L26.8 91.1L27.4 90.4L28 89.7L28.6 88.9L29.2 88.2L29.8 87.5L30.4 86.8L31 85.7L31.5 84.7L32.1 83.6L32.6 82.6L33.2 81.6L33.7 80.5L34.3 79.5L34.8 78.4L35.3 76.8L35.8 75.3L36.3 73.7L36.8 71.7L37.2 69.4L37.7 67.1L38.1 64.8L38.6 63.1L39.1 61.8L40.3 68M22.9 103.5L23.6 102.8L24.3 102L25 101.3L25.7 100.6L26.4 99.8L27.1 99.1L27.8 98.4L28.5 97.6L29.1 96.9L29.8 96.2L30.5 95.5L31.2 94.8L31.8 94.1L32.5 93.4L33.2 92.6L33.8 91.8L34.5 91L35.1 90.2L35.8 89.4L36.4 88.6L37.1 87.8L37.7 87L38.3 86.2L38.9 85L39.5 83.9L40.1 82.7L40.7 81.6L41.3 80.5L41.9 79.3L42.5 78.1L43.1 76.3L43.6 74.4L44.1 72.4L44.6 69.9L45.1 67.4L45.7 64.8L46.2 62.9L46.8 61.6L47.9 68.3M28.5 105.5L29.2 104.7L30 104L30.7 103.2L31.4 102.4L32.1 101.6L32.9 100.9L33.6 100.1L34.3 99.3L35 98.6L35.7 97.8L36.4 97L37.1 96.3L37.8 95.5L38.5 94.8L39.2 94L39.9 93.1L40.5 92.3L41.2 91.5L41.9 90.6L42.5 89.8L43.2 89L43.9 88.1L44.5 87.3L45.2 86.2L45.8 85L46.4 83.8L47.1 82.7L47.7 81.5L48.3 80.3L49 79.2L49.5 77.3L50.1 75.4L50.7 73.4L51.3 70.8L51.8 68.3L52.4 65.8L53 63.6L53.6 62L54.3 63.3M34.2 107.4L34.9 106.5L35.7 105.7L36.4 104.9L37.2 104.1L38 103.3L38.7 102.4L39.4 101.6L40.2 100.8L40.9 100L41.7 99.2L42.4 98.4L43.1 97.6L43.8 96.7L44.6 95.8L45.3 94.9L46 94.1L46.7 93.2L47.4 92.3L48.1 91.5L48.8 90.6L49.5 89.8L50.2 88.7L50.8 87.5L51.5 86.3L52.2 85.2L52.8 84L53.5 82.8L54.2 81.7L54.8 80.5L55.5 78.7L56.1 76.9L56.7 75.1L57.4 72.8L58 70.3L58.6 67.9L59.2 65.4L59.9 63.6L60.5 61.9L61.2 61.7M39.9 109.3L40.7 108.4L41.4 107.6L42.2 106.7L43 105.9L43.8 105L44.5 104.2L45.3 103.3L46 102.5L46.8 101.7L47.5 100.8L48.3 99.9L49 99L49.8 98.1L50.5 97.2L51.2 96.3L51.9 95.4L52.7 94.5L53.4 93.7L54.1 92.8L54.8 91.9L55.5 90.9L56.2 89.8L56.9 88.6L57.6 87.5L58.3 86.3L59 85.2L59.6 84L60.3 82.9L61 81.8L61.7 80L62.3 78L63 75.9L63.6 73.4L64.3 70.9L64.9 68.4L65.6 65.9L66.3 63.1L66.9 60.3L67.6 57.4M45.7 111.4L46.5 110.5L47.3 109.6L48.1 108.7L48.9 107.8L49.7 106.9L50.4 106.1L51.2 105.2L52 104.3L52.8 103.5L53.5 102.6L54.3 101.7L55 100.7L55.8 99.8L56.5 98.9L57.3 98L58 97.1L58.7 96.2L59.5 95.3L60.2 94.4L60.9 93.5L61.7 92.6L62.4 91.7L63.1 90.5L63.8 89.3L64.5 88L65.2 86.8L65.9 85.5L66.6 84.3L67.3 83L68 81.4L68.7 78.6L69.3 76L70 73.4L70.7 70.9L71.4 68.3L72.1 65.8L72.8 63.2L73.5 60.7L74.2 58.2M51.6 113.6L52.4 112.7L53.2 111.7L54.1 110.8L54.9 109.8L55.7 108.9L56.5 107.9L57.3 107L58.1 106.1L58.9 105.1L59.7 104.2L60.5 103.3L61.3 102.4L62.1 101.4L62.9 100.4L63.7 99.5L64.4 98.5L65.2 97.5L66 96.6L66.7 95.6L67.5 94.7L68.2 93.7L69 92.8L69.7 91.9L70.5 90.9L71.2 89.6L71.9 88.2L72.7 86.9L73.4 85.5L74.1 84.2L74.8 82.8L75.6 81L76.3 78.2L77 75.3L77.8 72.5L78.5 69.6L79.3 66.8L80 63.9L80.8 61L81.5 58.2M57.5 116L58.4 114.9L59.3 113.9L60.1 112.8L61 111.8L61.9 110.8L62.7 109.8L63.6 108.8L64.4 107.7L65.3 106.7L66.1 105.8L67 104.8L67.8 103.8L68.6 102.8L69.4 101.8L70.3 100.9L71.1 99.8L71.9 98.8L72.7 97.7L73.5 96.7L74.3 95.7L75 94.6L75.8 93.6L76.6 92.6L77.4 91.6L78.2 90.6L78.9 89.5L79.7 88L80.5 86.6L81.2 85.1L82 83.7L82.8 82.3L83.5 80.6L84.3 77.5L85.1 74.3L85.9 71L86.7 67.7L87.6 64.4L88.4 61.1L89.2 57.8M63.5 118.2L64.5 117.1L65.4 116L66.3 114.9L67.3 113.8L68.2 112.6L69.1 111.5L70 110.4L70.9 109.3L71.8 108.2L72.7 107.1L73.6 106L74.5 104.9L75.4 103.8L76.3 102.8L77.1 101.7L78 100.7L78.9 99.6L79.7 98.5L80.6 97.3L81.4 96.2L82.2 95.1L83.1 94L83.9 92.9L84.7 91.8L85.5 90.7L86.4 89.6L87.2 88.2L88 86.7L88.8 85.2L89.6 83.8L90.4 82.3L91.2 80.9L92 79.4L92.9 76L93.8 72.3L94.7 68.4L95.6 64.5L96.5 60.7L97.4 56.8M69.6 120.4L70.6 119.2L71.6 118L72.6 116.8L73.6 115.6L74.6 114.5L75.5 113.3L76.5 112.1L77.5 110.8L78.4 109.6L79.4 108.4L80.3 107.3L81.2 106.1L82.2 104.9L83.1 103.8L84 102.6L84.9 101.5L85.8 100.3L86.7 99.2L87.6 98L88.5 96.8L89.4 95.5L90.3 94.3L91.1 93.1L92 91.9L92.9 90.7L93.7 89.6L94.6 88.3L95.4 86.7L96.3 85L97.1 83.4L98 81.8L98.9 80.2L99.7 78.3L100.6 75.8L101.5 73.3L102.5 69L103.5 64.6L104.5 60.2L105.5 55.9M75.7 122.7L76.8 121.4L77.8 120.1L78.9 118.8L79.9 117.5L80.9 116.2L82 114.9L83 113.7L84 112.4L85 111.2L86 109.9L87 108.6L87.9 107.3L88.9 106.1L89.9 104.8L90.8 103.6L91.8 102.3L92.7 101.1L93.6 99.9L94.6 98.7L95.5 97.5L96.4 96.1L97.3 94.8L98.2 93.5L99.1 92.3L100 91L100.9 89.7L101.8 88.5L102.7 86.9L103.6 85.1L104.5 83.3L105.4 81.6L106.3 79.9L107.2 77.9L108.1 75.5L109 73.2L110 69.3L111.1 64.6L112.2 59.8L113.3 55.1M81.9 124.9L83 123.5L84.1 122.1L85.2 120.7L86.3 119.4L87.4 118L88.4 116.6L89.5 115.3L90.5 114L91.6 112.6L92.6 111.3L93.6 109.9L94.6 108.6L95.6 107.2L96.6 105.9L97.6 104.6L98.6 103.3L99.6 102L100.6 100.7L101.5 99.4L102.5 98.1L103.4 96.8L104.4 95.4L105.3 94L106.2 92.6L107.2 91.3L108.1 89.9L109 88.6L109.9 87.2L110.8 85.3L111.8 83.4L112.7 81.5L113.6 79.6L114.5 77.6L115.5 75.3L116.4 73L117.5 69.6L118.6 64.5L119.7 59.5L120.9 54.4M88.2 127.2L89.4 125.7L90.5 124.2L91.6 122.7L92.8 121.3L93.9 119.8L95 118.4L96 116.9L97.1 115.5L98.2 114.1L99.3 112.7L100.3 111.3L101.4 109.9L102.4 108.5L103.4 107.1L104.4 105.7L105.5 104.3L106.5 102.9L107.5 101.5L108.4 100.2L109.4 98.8L110.4 97.5L111.4 96.1L112.3 94.7L113.3 93.2L114.2 91.8L115.2 90.3L116.1 88.9L117 87.5L118 85.9L118.9 83.8L119.9 81.8L120.8 79.8L121.8 77.7L122.8 75.3L123.7 73L124.7 70.2L125.9 64.8L127.2 59.3L128.4 53.9M94.6 129.6L95.8 128L96.9 126.4L98.1 124.8L99.2 123.2L100.4 121.7L101.5 120.1L102.6 118.6L103.7 117.1L104.8 115.6L105.9 114.1L107 112.6L108.1 111.2L109.1 109.7L110.2 108.3L111.2 106.9L112.3 105.4L113.3 104L114.3 102.5L115.3 101.1L116.3 99.6L117.3 98.2L118.3 96.8L119.3 95.4L120.2 94L121.2 92.5L122.2 90.9L123.1 89.4L124.1 87.9L125 86.4L126 84.8L127 82.5L127.9 80.3L128.9 78.1L129.9 75.7L130.9 73.2L131.9 70.6L133.1 65.2L134.4 59.3L135.7 53.4M101 131.9L102.2 130.2L103.4 128.5L104.6 126.9L105.8 125.2L107 123.6L108.1 121.9L109.3 120.3L110.4 118.7L111.5 117.1L112.6 115.6L113.7 114L114.8 112.5L115.9 111L117 109.5L118 108L119.1 106.5L120.1 105L121.2 103.6L122.2 102.1L123.2 100.5L124.2 99L125.2 97.5L126.2 96.1L127.2 94.6L128.2 93.2L129.1 91.7L130.1 90.1L131.1 88.5L132 86.9L133 85.3L133.9 83.6L134.9 81.2L135.9 78.8L136.9 76.4L137.9 73.6L139 70.8L140.2 65.7L141.5 59.4L142.9 53M107.5 134.3L108.8 132.5L110 130.7L111.2 129L112.4 127.2L113.6 125.5L114.8 123.8L115.9 122.1L117.1 120.4L118.2 118.7L119.3 117.1L120.5 115.5L121.6 113.9L122.7 112.3L123.7 110.7L124.8 109.1L125.9 107.6L126.9 106L128 104.5L129 103L130 101.5L131.1 99.9L132.1 98.3L133.1 96.8L134.1 95.3L135 93.7L136 92.2L137 90.7L138 89L138.9 87.4L139.9 85.7L140.8 84.1L141.8 82.1L142.8 79.5L143.8 76.9L144.9 74L145.9 70.8L147.2 65.6L148.5 59.3L149.9 52.7M11.8 99.1L12.9 99.6L14 100L15.1 100.4L16.2 100.9L17.3 101.3L18.4 101.8L19.5 102.2L20.7 102.6L21.8 103.1L22.9 103.5L24 103.9L25.1 104.3L26.2 104.7L27.4 105.1L28.5 105.5L29.6 105.9L30.8 106.3L31.9 106.7L33 107L34.2 107.4L35.3 107.7L36.4 108.1L37.6 108.5L38.7 108.9L39.9 109.3L41 109.7L42.2 110.1L43.4 110.5L44.5 111L45.7 111.4L46.9 111.8L48 112.3L49.2 112.7L50.4 113.2L51.6 113.6L52.7 114.1L53.9 114.6L55.1 115L56.3 115.5L57.5 116L58.7 116.5L59.9 116.9L61.1 117.3L62.3 117.8L63.5 118.2L64.7 118.7L65.9 119.1L67.1 119.6L68.4 120L69.6 120.4L70.8 120.9L72 121.3L73.3 121.8L74.5 122.2L75.7 122.7L77 123.1L78.2 123.6L79.4 124L80.7 124.5L81.9 124.9L83.2 125.4L84.4 125.9L85.7 126.3L87 126.8L88.2 127.2L89.5 127.7L90.7 128.2L92 128.6L93.3 129.1L94.6 129.6L95.9 130.1L97.1 130.5L98.4 131L99.7 131.5L101 131.9L102.3 132.4L103.6 132.9L104.9 133.4L106.2 133.9L107.5 134.3M15.7 95.2L16.8 95.6L17.9 96L19 96.5L20.1 96.9L21.2 97.3L22.3 97.8L23.4 98.2L24.5 98.6L25.6 99.1L26.7 99.5L27.8 99.9L28.9 100.3L30 100.7L31.2 101.1L32.3 101.5L33.4 101.9L34.5 102.2L35.6 102.6L36.8 103L37.9 103.3L39 103.7L40.1 104L41.3 104.4L42.4 104.8L43.6 105.2L44.7 105.6L45.9 106L47 106.5L48.2 106.9L49.3 107.3L50.5 107.7L51.7 108.2L52.8 108.6L54 109.1L55.2 109.5L56.3 109.9L57.5 110.4L58.7 110.9L59.9 111.3L61 111.8L62.2 112.2L63.4 112.7L64.6 113.2L65.8 113.6L67 114.1L68.2 114.6L69.4 115L70.6 115.4L71.8 115.9L73 116.3L74.2 116.8L75.4 117.2L76.7 117.6L77.9 118.1L79.1 118.5L80.3 118.9L81.5 119.4L82.8 119.8L84 120.3L85.2 120.7L86.5 121.2L87.7 121.6L89 122.1L90.2 122.5L91.5 123L92.7 123.4L94 123.9L95.2 124.3L96.5 124.8L97.8 125.2L99 125.7L100.3 126.2L101.6 126.6L102.8 127.1L104.1 127.5L105.4 128L106.7 128.5L108 128.9L109.3 129.4L110.6 129.9M19.4 90.9L20.5 91.4L21.6 91.9L22.7 92.4L23.8 92.9L24.9 93.4L26 93.9L27.1 94.3L28.2 94.7L29.3 95.1L30.4 95.6L31.5 96L32.6 96.4L33.7 96.8L34.8 97.2L36 97.5L37.1 97.9L38.2 98.3L39.3 98.6L40.4 99L41.5 99.4L42.7 99.7L43.8 100.1L44.9 100.4L46 100.8L47.2 101.2L48.3 101.6L49.5 102.1L50.6 102.5L51.7 102.9L52.9 103.3L54 103.7L55.2 104.2L56.3 104.6L57.5 105L58.7 105.5L59.8 105.9L61 106.3L62.2 106.8L63.3 107.2L64.5 107.7L65.7 108.1L66.9 108.6L68 109L69.2 109.5L70.4 109.9L71.6 110.4L72.8 110.9L74 111.3L75.2 111.8L76.4 112.2L77.6 112.7L78.8 113.1L80 113.6L81.2 114L82.4 114.4L83.6 114.9L84.8 115.3L86 115.7L87.3 116.2L88.5 116.6L89.7 117L90.9 117.5L92.2 117.9L93.4 118.3L94.6 118.8L95.9 119.2L97.1 119.7L98.4 120.1L99.6 120.6L100.9 121L102.1 121.5L103.4 121.9L104.6 122.4L105.9 122.8L107.2 123.3L108.4 123.7L109.7 124.2L111 124.6L112.3 125.1L113.5 125.5M23 86.3L24.1 87L25.2 87.5L26.3 88L27.4 88.5L28.5 89L29.6 89.5L30.7 90L31.8 90.5L32.9 91L34 91.5L35.2 92L36.2 92.4L37.3 92.8L38.4 93.1L39.5 93.5L40.7 93.9L41.8 94.2L42.9 94.5L44 94.8L45.1 95.2L46.2 95.5L47.3 95.8L48.4 96.1L49.5 96.5L50.7 97L51.8 97.4L52.9 97.8L54.1 98.2L55.2 98.7L56.4 99.1L57.5 99.5L58.6 100L59.8 100.5L60.9 101L62.1 101.4L63.2 101.9L64.4 102.4L65.6 102.8L66.7 103.2L67.9 103.7L69 104.1L70.2 104.6L71.4 105L72.5 105.4L73.7 105.9L74.9 106.3L76.1 106.8L77.3 107.2L78.4 107.7L79.6 108.1L80.8 108.6L82 109L83.2 109.5L84.4 109.9L85.6 110.4L86.8 110.8L88 111.3L89.2 111.7L90.4 112.2L91.6 112.6L92.8 113L94.1 113.4L95.3 113.9L96.5 114.3L97.7 114.7L99 115.1L100.2 115.6L101.4 116L102.7 116.5L103.9 116.9L105.1 117.3L106.4 117.8L107.6 118.2L108.9 118.6L110.1 119.1L111.4 119.5L112.7 120L113.9 120.4L115.2 120.9L116.5 121.3M26.4 80.1L27.5 80.9L28.6 81.6L29.7 82.3L30.9 83.1L32 83.8L33.1 84.6L34.2 85.3L35.4 86.1L36.5 86.7L37.6 87.1L38.7 87.6L39.7 88L40.8 88.4L41.9 88.8L43 89.2L44.1 89.6L45.2 89.9L46.3 90.3L47.4 90.6L48.5 90.9L49.6 91.2L50.8 91.6L51.9 91.9L53 92.3L54.1 92.8L55.2 93.2L56.4 93.6L57.5 94.1L58.6 94.5L59.7 94.9L60.9 95.4L62 95.8L63.2 96.3L64.3 96.8L65.4 97.2L66.6 97.7L67.7 98.2L68.9 98.7L70 99.2L71.2 99.7L72.3 100.2L73.5 100.6L74.6 101.1L75.8 101.5L77 101.9L78.1 102.4L79.3 102.8L80.5 103.2L81.6 103.7L82.8 104.1L84 104.5L85.2 105L86.4 105.4L87.5 105.8L88.7 106.3L89.9 106.7L91.1 107.2L92.3 107.6L93.5 108L94.7 108.5L95.9 109L97.1 109.4L98.3 109.9L99.5 110.3L100.7 110.7L102 111.2L103.2 111.6L104.4 112L105.6 112.4L106.9 112.9L108.1 113.3L109.3 113.7L110.6 114.2L111.8 114.6L113 115L114.3 115.4L115.5 115.9L116.8 116.3L118 116.7L119.3 117.2M29.4 71.6L30.6 73.1L31.8 74.1L32.9 75L34.1 76.1L35.2 77.1L36.4 78.3L37.5 79.1L38.6 79.9L39.8 80.6L40.9 81.3L42 82L43.1 82.6L44.2 83.1L45.3 83.5L46.4 83.9L47.5 84.3L48.6 84.7L49.7 85L50.8 85.4L51.9 85.7L53 85.9L54.1 86.2L55.2 86.5L56.3 87.1L57.4 87.7L58.6 88.3L59.7 88.8L60.8 89.3L61.9 89.9L63.1 90.6L64.2 91.3L65.3 91.8L66.4 92.2L67.6 92.7L68.7 93.1L69.8 93.6L71 94.1L72.1 94.5L73.3 95L74.4 95.5L75.5 96L76.7 96.4L77.8 96.9L79 97.4L80.1 97.9L81.3 98.4L82.4 98.9L83.6 99.3L84.8 99.7L85.9 100.2L87.1 100.6L88.3 101L89.4 101.5L90.6 101.9L91.8 102.3L93 102.7L94.2 103.2L95.3 103.6L96.5 104L97.7 104.5L98.9 104.9L100.1 105.4L101.3 105.8L102.5 106.3L103.7 106.7L104.9 107.2L106.1 107.7L107.3 108.1L108.5 108.5L109.7 108.9L111 109.4L112.2 109.8L113.4 110.2L114.6 110.6L115.9 111L117.1 111.5L118.3 111.9L119.6 112.3L120.8 112.7L122 113.2M33.3 61.3L34.5 62.2L35.6 63L36.8 63.9L38 65.4L39.2 66.9L40.4 68.5L41.6 70L42.8 71.6L44 73.2L45.1 74.3L46.3 75.1L47.4 75.8L48.5 76.5L49.6 77.2L50.7 77.8L51.8 78.3L52.9 78.8L54 79.3L55.1 79.7L56.2 80L57.3 80.3L58.4 80.6L59.6 81.7L60.7 82.3L61.8 82.9L62.9 83.3L64 83.7L65.2 84.3L66.3 84.8L67.4 85.4L68.5 86.1L69.7 86.8L70.8 87.5L71.9 88.3L73 89L74.2 89.8L75.3 90.5L76.4 90.9L77.5 91.4L78.7 91.9L79.8 92.3L81 92.8L82.1 93.3L83.2 93.7L84.4 94.2L85.5 94.7L86.7 95.1L87.8 95.6L89 96.1L90.1 96.6L91.3 97L92.5 97.5L93.6 98L94.8 98.4L96 98.9L97.1 99.3L98.3 99.7L99.5 100.1L100.7 100.5L101.8 101L103 101.4L104.2 101.8L105.4 102.3L106.6 102.7L107.8 103.2L109 103.6L110.2 104.1L111.4 104.6L112.6 105L113.8 105.5L115 105.9L116.2 106.3L117.4 106.8L118.6 107.2L119.8 107.6L121.1 108L122.3 108.4L123.5 108.8L124.7 109.2M45.7 60.6L46.9 61.4L48 62.2L49.1 62.8L50.3 63.5L51.4 64.2L52.5 65.2L53.7 66.1L54.8 67L55.9 67.8L57.1 68.7L58.2 69.4L59.3 70.3L60.5 71.1L61.6 71.4L62.7 72.2L63.8 72.7L64.9 72.9L66.1 73L67.2 73.5L68.3 74.5L69.4 75.6L70.6 76.9L71.7 78.2L72.8 79.7L73.9 81.3L75.1 82.4L76.2 83.2L77.3 83.9L78.4 84.7L79.5 85.4L80.7 86.2L81.8 87L82.9 87.7L84 88.5L85.2 89.2L86.3 89.7L87.4 90.1L88.6 90.6L89.7 91L90.8 91.5L92 92L93.1 92.4L94.3 92.9L95.4 93.4L96.6 93.8L97.7 94.3L98.9 94.7L100 95.2L101.2 95.7L102.4 96.2L103.5 96.6L104.7 97.1L105.9 97.5L107 98L108.2 98.4L109.4 98.8L110.6 99.3L111.8 99.7L112.9 100.2L114.1 100.6L115.3 101.1L116.5 101.5L117.7 102L118.9 102.5L120.1 102.9L121.3 103.4L122.5 103.8L123.7 104.2L124.9 104.6L126.1 105L127.4 105.4M62.5 60.8L63.6 61.6L64.7 60.1L65.8 59.9L66.9 60.2L68.1 60.7L69.2 61.2L70.3 61.8L71.5 62.8L72.6 63.9L73.7 65.1L74.9 66.3L76 67.7L77.1 69.1L78.2 70.7L79.3 72.5L80.5 74.2L81.6 76L82.7 77.8L83.7 79.8L84.8 81.3L86 82.1L87.1 82.9L88.2 83.6L89.3 84.3L90.4 85L91.5 85.6L92.7 86.3L93.8 87L94.9 87.7L96 88.3L97.2 88.8L98.3 89.3L99.5 89.7L100.6 90.2L101.7 90.6L102.9 91.1L104 91.6L105.2 92L106.3 92.5L107.5 93L108.7 93.4L109.8 93.9L111 94.4L112.1 94.9L113.3 95.5L114.5 95.9L115.7 96.3L116.8 96.8L118 97.2L119.2 97.7L120.4 98.1L121.6 98.5L122.7 99L123.9 99.4L125.1 99.9L126.3 100.3L127.5 100.8L128.7 101.2L129.9 101.6M81.5 58.3L82.6 59.9L83.7 61.5L84.8 63.1L85.9 64.8L87 66.7L88.1 68.8L89.1 71.2L90.2 73.8L91.2 76.2L92.3 78.3L93.4 79.6L94.5 80.2L95.6 80.8L96.7 81.4L97.9 82.1L99 82.7L100.1 83.4L101.2 84.1L102.3 84.7L103.5 85.4L104.6 86.1L105.7 86.7L106.8 87.4L108 88L109.1 88.4L110.3 88.9L111.4 89.3L112.6 89.8L113.7 90.3L114.9 90.8L116 91.3L117.2 91.8L118.3 92.3L119.5 92.8L120.6 93.4L121.8 93.9L123 94.3L124.2 94.7L125.3 95.2L126.5 95.6L127.7 96L128.9 96.5L130.1 96.9L131.3 97.3L132.5 97.7M92.5 57.5L93.5 59.8L94.6 62.1L95.6 64.5L96.7 66.9L97.7 69.3L98.7 71.8L99.8 73.9L100.8 75.2L101.9 76.3L103 77.3L104.1 78.3L105.2 79.2L106.3 79.8L107.4 80.4L108.6 81.1L109.7 81.7L110.8 82.4L111.9 83.1L113 83.8L114.2 84.5L115.3 85.3L116.4 86L117.5 86.8L118.7 87.2L119.8 87.7L121 88.2L122.1 88.7L123.3 89.2L124.4 89.7L125.6 90.2L126.7 90.8L127.9 91.3L129 91.8L130.2 92.3L131.4 92.7L132.6 93.1L133.7 93.5L134.9 93.9M102.1 57L103.1 59.3L104.2 61.6L105.2 63.9L106.2 66.2L107.2 68.4L108.2 70.7L109.2 72.6L110.3 73.6L111.4 74.6L112.5 75.5L113.6 76.3L114.7 77.2L115.8 78.1L116.9 78.8L118 79.5L119.1 80.3L120.3 81L121.4 81.8L122.5 82.6L123.6 83.4L124.7 84.3L125.8 85.1L127 85.7L128.1 86.2L129.2 86.7L130.4 87.2L131.5 87.7L132.7 88.2L133.9 88.6L135 89.1L136.2 89.6L137.3 90.1M111.7 55.5L112.7 57.7L113.7 59.9L114.7 62.1L115.7 64.3L116.7 66.4L117.7 68.6L118.7 70.8L119.7 72.1L120.8 73L121.9 73.9L123 74.8L124.1 75.7L125.2 76.6L126.3 77.5L127.4 78.3L128.5 79.1L129.6 79.9L130.7 80.8L131.8 81.6L132.9 82.5L134 83.4L135.1 84.1L136.3 84.6L137.4 85L138.6 85.5L139.7 86M122.1 55.6L123.1 57.7L124.1 59.9L125.1 62.1L126 64.3L127 66.5L128 68.7L129 70.7L130.1 71.6L131.2 72.5L132.2 73.4L133.3 74.4L134.4 75.3L135.5 76.3L136.6 77.1L137.7 77.9L138.8 78.8L139.9 79.6L141 80.4L142.1 81.2M132.5 55.1L133.4 57.3L134.4 59.5L135.3 61.7L136.3 63.8L137.3 66L138.3 68.1L139.3 70L140.3 70.9L141.4 71.8L142.5 72.7L143.6 73.7L144.7 74.6M142.7 53.8L143.7 55.9L144.6 57.9L145.6 60L146.6 61.9L147.6 63.7" stroke="#111" stroke-opacity="0.88" stroke-width="0.45" fill="none"/>
<text x="6.0" y="121.2" font-size="10.7" text-anchor="middle" class="tk">−2</text>
<text x="27.8" y="129.5" font-size="10.7" text-anchor="middle" class="tk">−1</text>
<text x="52.6" y="137.7" font-size="10.7" text-anchor="middle" class="tk">0</text>
<text x="76.5" y="146.4" font-size="10.7" text-anchor="middle" class="tk">1</text>
<text x="101.8" y="156.2" font-size="10.7" text-anchor="middle" class="tk">2</text>
<text x="115.3" y="152.5" font-size="10.7" text-anchor="middle" class="tk">−2</text>
<text x="126.6" y="134.4" font-size="10.7" text-anchor="middle" class="tk">−1</text>
<text x="133.8" y="118.6" font-size="10.7" text-anchor="middle" class="tk">0</text>
<text x="143.4" y="104.2" font-size="10.7" text-anchor="middle" class="tk">1</text>
<text x="151.4" y="91.4" font-size="10.7" text-anchor="middle" class="tk">2</text>
<text x="7.5" y="109.2" font-size="10.7" text-anchor="middle" class="tk">0</text>
<text x="6.6" y="101.9" font-size="10.7" text-anchor="middle" class="tk">2</text>
<text x="5.7" y="94.6" font-size="10.7" text-anchor="middle" class="tk">4</text>
<text x="4.7" y="87.3" font-size="10.7" text-anchor="middle" class="tk">6</text>
<text x="3.8" y="80.0" font-size="10.7" text-anchor="middle" class="tk">8</text>
<text x="45.6" y="146" font-size="9.5" font-style="italic" text-anchor="middle" class="tk">x</text>
<text x="140.6" y="120.6" font-size="9.5" font-style="italic" text-anchor="middle" class="tk">t</text>
<defs><linearGradient id="rbv3" x1="0" y1="0" x2="0" y2="1"><stop offset="0.0000" stop-color="#db2122"/><stop offset="0.1250" stop-color="#e78232"/><stop offset="0.2500" stop-color="#deae3c"/><stop offset="0.3750" stop-color="#b4bd4c"/><stop offset="0.5000" stop-color="#7db874"/><stop offset="0.6250" stop-color="#5aa8a0"/><stop offset="0.7150" stop-color="#488ac5"/><stop offset="0.7500" stop-color="#4584c8"/><stop offset="0.8750" stop-color="#3e4acc"/><stop offset="0.9400" stop-color="#5820ac"/><stop offset="1.0000" stop-color="#781c86"/></linearGradient></defs>
<rect x="165.2" y="53.2" width="5.7" height="52.8" fill="url(#rbv3)"/>
<text x="173.8" y="110.0" font-size="10.7" class="tk">0</text>
<text x="173.8" y="98.0" font-size="10.7" class="tk">2</text>
<text x="173.8" y="86.1" font-size="10.7" class="tk">4</text>
<text x="173.8" y="74.2" font-size="10.7" class="tk">6</text>
<text x="173.8" y="62.2" font-size="10.7" class="tk">8</text>
</g>
<g id="plot2d">
<path d="M312.4 45.2V125.3M278.2 107.4H409.1M278.2 67.4H409.1" stroke="#a6a6a6" stroke-width="0.5" stroke-dasharray="2.2 1 0.6 1" fill="none"/>
<path d="M343.7 45.2V125.3M375.0 45.2V125.3M278.2 87.4H409.1" stroke="#d6d6d6" stroke-width="0.5" stroke-dasharray="1 1" fill="none"/>
<rect x="278.2" y="45.2" width="130.9" height="80.1" fill="none" stroke="#b0b0b0" stroke-width="0.5"/>
<path d="M281.1 125.3v-2.2M281.1 45.2v2.2M287.4 125.3v-1.2M287.4 45.2v1.2M293.6 125.3v-1.2M293.6 45.2v1.2M299.9 125.3v-1.2M299.9 45.2v1.2M306.1 125.3v-1.2M306.1 45.2v1.2M312.4 125.3v-2.2M312.4 45.2v2.2M318.7 125.3v-1.2M318.7 45.2v1.2M324.9 125.3v-1.2M324.9 45.2v1.2M331.2 125.3v-1.2M331.2 45.2v1.2M337.4 125.3v-1.2M337.4 45.2v1.2M343.7 125.3v-2.2M343.7 45.2v2.2M350.0 125.3v-1.2M350.0 45.2v1.2M356.2 125.3v-1.2M356.2 45.2v1.2M362.5 125.3v-1.2M362.5 45.2v1.2M368.7 125.3v-1.2M368.7 45.2v1.2M375.0 125.3v-2.2M375.0 45.2v2.2M381.3 125.3v-1.2M381.3 45.2v1.2M387.5 125.3v-1.2M387.5 45.2v1.2M393.8 125.3v-1.2M393.8 45.2v1.2M400.0 125.3v-1.2M400.0 45.2v1.2M406.3 125.3v-2.2M406.3 45.2v2.2M278.2 122.4h1.2M409.1 122.4h-1.2M278.2 117.4h1.2M409.1 117.4h-1.2M278.2 112.4h1.2M409.1 112.4h-1.2M278.2 107.4h2.2M409.1 107.4h-2.2M278.2 102.4h1.2M409.1 102.4h-1.2M278.2 97.4h1.2M409.1 97.4h-1.2M278.2 92.4h1.2M409.1 92.4h-1.2M278.2 87.4h2.2M409.1 87.4h-2.2M278.2 82.4h1.2M409.1 82.4h-1.2M278.2 77.4h1.2M409.1 77.4h-1.2M278.2 72.4h1.2M409.1 72.4h-1.2M278.2 67.4h2.2M409.1 67.4h-2.2M278.2 62.4h1.2M409.1 62.4h-1.2M278.2 57.4h1.2M409.1 57.4h-1.2M278.2 52.4h1.2M409.1 52.4h-1.2M278.2 47.4h2.2M409.1 47.4h-2.2" stroke="#707070" stroke-width="0.45" fill="none"/>
<defs><linearGradient id="g2d" gradientUnits="userSpaceOnUse" x1="0" y1="48.90" x2="0" y2="123.20"><stop offset="0.0000" stop-color="#db2122"/><stop offset="0.1250" stop-color="#e78232"/><stop offset="0.2500" stop-color="#deae3c"/><stop offset="0.3750" stop-color="#b4bd4c"/><stop offset="0.5000" stop-color="#7db874"/><stop offset="0.6250" stop-color="#5aa8a0"/><stop offset="0.7150" stop-color="#488ac5"/><stop offset="0.7500" stop-color="#4584c8"/><stop offset="0.8750" stop-color="#3e4acc"/><stop offset="0.9400" stop-color="#5820ac"/><stop offset="1.0000" stop-color="#781c86"/></linearGradient></defs>
<polyline points="281.1,121.6 281.73,121.54 282.35,121.46 282.98,121.38 283.6,121.28 284.23,121.17 284.86,121.06 285.48,120.93 286.11,120.8 286.73,120.66 287.36,120.52 287.99,120.38 288.61,120.22 289.24,120.06 289.86,119.88 290.49,119.68 291.12,119.46 291.74,119.22 292.37,118.95 292.99,118.64 293.62,118.27 294.25,117.83 294.87,117.32 295.5,116.76 296.12,116.14 296.75,115.48 297.38,114.77 298,114.01 298.63,113.11 299.25,112.08 299.88,110.94 300.51,109.71 301.13,108.41 301.76,107.06 302.38,105.68 303.01,104.22 303.64,102.61 304.26,100.78 304.89,98.68 305.51,96.06 306.14,92.29 306.77,88.3 307.39,84.87 308.02,81.64 308.64,78.42 309.27,75.08 309.9,71.67 310.52,68.35 311.15,65.22 311.77,62.16 312.4,59.3 313.03,56.73 313.65,54.39 314.28,52.4 314.9,50.69 315.53,49.61 316.16,48.97 316.78,48.83 317.41,49.28 318.03,50.01 318.66,51.22 319.29,52.6 319.91,54.14 320.54,55.87 321.16,57.83 321.79,60.1 322.42,62.27 323.04,64.32 323.67,66.28 324.29,68.14 324.92,69.92 325.55,71.61 326.17,73.21 326.8,74.74 327.42,76.19 328.05,77.57 328.68,78.89 329.3,80.14 329.93,81.32 330.55,82.45 331.18,83.53 331.81,84.55 332.43,85.52 333.06,86.44 333.68,87.32 334.31,88.15 334.94,88.94 335.56,89.69 336.19,90.41 336.81,91.08 337.44,91.73 338.07,92.34 338.69,92.92 339.32,93.47 339.94,93.99 340.57,94.49 341.2,94.96 341.82,95.41 342.45,95.83 343.07,96.24 343.7,96.62 344.33,96.98 344.95,97.32 345.58,97.65 346.2,97.96 346.83,98.25 347.46,98.53 348.08,98.79 348.71,99.04 349.33,99.28 349.96,99.51 350.59,99.72 351.21,99.92 351.84,100.11 352.46,100.29 353.09,100.46 353.72,100.63 354.34,100.78 354.97,100.93 355.59,101.06 356.22,101.19 356.85,101.32 357.47,101.44 358.1,101.55 358.72,101.65 359.35,101.75 359.98,101.84 360.6,101.93 361.23,102.02 361.85,102.1 362.48,102.17 363.11,102.24 363.73,102.31 364.36,102.38 364.98,102.44 365.61,102.49 366.24,102.55 366.86,102.6 367.49,102.65 368.11,102.69 368.74,102.73 369.37,102.77 369.99,102.81 370.62,102.85 371.24,102.88 371.87,102.92 372.5,102.95 373.12,102.97 373.75,103 374.37,103.03 375,103.05 375.63,103.08 376.25,103.1 376.88,103.12 377.5,103.14 378.13,103.15 378.76,103.17 379.38,103.19 380.01,103.2 380.63,103.22 381.26,103.23 381.89,103.24 382.51,103.26 383.14,103.27 383.76,103.28 384.39,103.29 385.02,103.3 385.64,103.31 386.27,103.32 386.89,103.32 387.52,103.33 388.15,103.34 388.77,103.34 389.4,103.35 390.02,103.36 390.65,103.36 391.28,103.37 391.9,103.37 392.53,103.38 393.15,103.38 393.78,103.39 394.41,103.39 395.03,103.39 395.66,103.4 396.28,103.4 396.91,103.4 397.54,103.41 398.16,103.41 398.79,103.41 399.41,103.41 400.04,103.42 400.67,103.42 401.29,103.42 401.92,103.42 402.54,103.42 403.17,103.42 403.8,103.43 404.42,103.43 405.05,103.43 405.67,103.43 406.3,103.43" fill="none" stroke="url(#g2d)" stroke-width="1" stroke-linejoin="round"/>
<text x="280.5" y="138.0" font-size="10.8" text-anchor="middle" class="tk">−2</text>
<text x="311.8" y="138.0" font-size="10.8" text-anchor="middle" class="tk">−1</text>
<text x="344.0" y="138.0" font-size="10.8" text-anchor="middle" class="tk">0</text>
<text x="375.3" y="138.0" font-size="10.8" text-anchor="middle" class="tk">1</text>
<text x="406.6" y="138.0" font-size="10.8" text-anchor="middle" class="tk">2</text>
<text x="276.3" y="111.9" font-size="10.8" text-anchor="end" class="tk">2</text>
<text x="276.3" y="91.9" font-size="10.8" text-anchor="end" class="tk">4</text>
<text x="276.3" y="71.9" font-size="10.8" text-anchor="end" class="tk">6</text>
<text x="276.3" y="51.9" font-size="10.8" text-anchor="end" class="tk">8</text>
<text x="343.9" y="154.8" font-size="14.5" text-anchor="middle" class="tk">x</text>
<text transform="translate(265.6,85.4) rotate(-90)" font-size="15.8" text-anchor="middle" class="tk">|<tspan>v</tspan><tspan font-size="11.2" dy="2.7">2</tspan><tspan dy="-2.7">|</tspan></text>
<defs><linearGradient id="rbv2" x1="0" y1="0" x2="0" y2="1"><stop offset="0.0000" stop-color="#db2122"/><stop offset="0.1250" stop-color="#e78232"/><stop offset="0.2500" stop-color="#deae3c"/><stop offset="0.3750" stop-color="#b4bd4c"/><stop offset="0.5000" stop-color="#7db874"/><stop offset="0.6250" stop-color="#5aa8a0"/><stop offset="0.7150" stop-color="#488ac5"/><stop offset="0.7500" stop-color="#4584c8"/><stop offset="0.8750" stop-color="#3e4acc"/><stop offset="0.9400" stop-color="#5820ac"/><stop offset="1.0000" stop-color="#781c86"/></linearGradient></defs>
<rect x="416.5" y="71.2" width="6.1" height="52.5" fill="url(#rbv2)"/>
<path d="M421.1 116.40h1.5" stroke="#333" stroke-width="0.4"/>
<text x="425.3" y="119.9" font-size="9.6" class="tk">1</text>
<path d="M421.1 109.90h1.5" stroke="#333" stroke-width="0.4"/>
<text x="425.3" y="113.4" font-size="9.6" class="tk">2</text>
<path d="M421.1 103.40h1.5" stroke="#333" stroke-width="0.4"/>
<text x="425.3" y="106.9" font-size="9.6" class="tk">3</text>
<path d="M421.1 96.90h1.5" stroke="#333" stroke-width="0.4"/>
<text x="425.3" y="100.4" font-size="9.6" class="tk">4</text>
<path d="M421.1 90.40h1.5" stroke="#333" stroke-width="0.4"/>
<text x="425.3" y="93.9" font-size="9.6" class="tk">5</text>
<path d="M421.1 83.90h1.5" stroke="#333" stroke-width="0.4"/>
<text x="425.3" y="87.4" font-size="9.6" class="tk">6</text>
<path d="M421.1 77.40h1.5" stroke="#333" stroke-width="0.4"/>
<text x="425.3" y="80.9" font-size="9.6" class="tk">7</text>
</g>
<g id="polar">
<circle cx="446.7" cy="291.4" r="20.2" fill="none" stroke="#c4c4c4" stroke-width="0.5"/>
<circle cx="446.7" cy="291.4" r="40.4" fill="none" stroke="#c4c4c4" stroke-width="0.5"/>
<circle cx="446.7" cy="291.4" r="60.6" fill="none" stroke="#c4c4c4" stroke-width="0.5"/>
<circle cx="446.7" cy="291.4" r="80.7" fill="none" stroke="#c4c4c4" stroke-width="0.5"/>
<path d="M362.1 291.4H530.0M446.7 207.3V375.0" stroke="#6e6e6e" stroke-width="1.5" fill="none"/>
<path d="M366.12 291.4v-1.5M446.7 371.97h1.5M373.45 291.4v-1.5M446.7 364.65h1.5M380.77 291.4v-1.5M446.7 357.32h1.5M388.10 291.4v-2.4M446.7 350.00h2.4M395.43 291.4v-1.5M446.7 342.67h1.5M402.75 291.4v-1.5M446.7 335.35h1.5M410.07 291.4v-1.5M446.7 328.02h1.5M417.40 291.4v-2.4M446.7 320.70h2.4M424.72 291.4v-1.5M446.7 313.38h1.5M432.05 291.4v-1.5M446.7 306.05h1.5M439.38 291.4v-1.5M446.7 298.72h1.5M454.02 291.4v-1.5M446.7 284.07h1.5M461.35 291.4v-1.5M446.7 276.75h1.5M468.68 291.4v-1.5M446.7 269.42h1.5M476.00 291.4v-2.4M446.7 262.10h2.4M483.32 291.4v-1.5M446.7 254.77h1.5M490.65 291.4v-1.5M446.7 247.45h1.5M497.97 291.4v-1.5M446.7 240.12h1.5M505.30 291.4v-2.4M446.7 232.80h2.4M512.62 291.4v-1.5M446.7 225.47h1.5M519.95 291.4v-1.5M446.7 218.15h1.5M527.27 291.4v-1.5M446.7 210.82h1.5" stroke="#6e6e6e" stroke-width="0.5" fill="none"/>
<path d="M517.80 291.40A71.1 71.1 0 0 0 517.46 284.50" stroke="#babb4a" stroke-width="0.9" fill="none"/>
<path d="M517.53 285.20A71.1 71.1 0 0 0 516.59 278.35" stroke="#bcba49" stroke-width="0.9" fill="none"/>
<path d="M516.72 279.05A71.1 71.1 0 0 0 515.19 272.31" stroke="#bdba48" stroke-width="0.9" fill="none"/>
<path d="M515.38 273.00A71.1 71.1 0 0 0 513.27 266.42" stroke="#bfb948" stroke-width="0.9" fill="none"/>
<path d="M513.51 267.08A71.1 71.1 0 0 0 510.83 260.71" stroke="#c1b847" stroke-width="0.9" fill="none"/>
<path d="M511.14 261.35A71.1 71.1 0 0 0 507.92 255.24" stroke="#c2b847" stroke-width="0.9" fill="none"/>
<path d="M508.27 255.85A71.1 71.1 0 0 0 504.53 250.04" stroke="#c4b746" stroke-width="0.9" fill="none"/>
<path d="M504.94 250.62A71.1 71.1 0 0 0 500.71 245.16" stroke="#c6b745" stroke-width="0.9" fill="none"/>
<path d="M501.17 245.70A71.1 71.1 0 0 0 496.47 240.62" stroke="#c7b645" stroke-width="0.9" fill="none"/>
<path d="M496.98 241.12A71.1 71.1 0 0 0 491.86 236.48" stroke="#c9b644" stroke-width="0.9" fill="none"/>
<path d="M492.40 236.93A71.1 71.1 0 0 0 486.90 232.75" stroke="#cbb543" stroke-width="0.9" fill="none"/>
<path d="M487.48 233.16A71.1 71.1 0 0 0 481.63 229.47" stroke="#ccb443" stroke-width="0.9" fill="none"/>
<path d="M482.25 229.83A71.1 71.1 0 0 0 476.10 226.66" stroke="#ceb442" stroke-width="0.9" fill="none"/>
<path d="M476.75 226.96A71.1 71.1 0 0 0 470.35 224.35" stroke="#d0b341" stroke-width="0.9" fill="none"/>
<path d="M471.02 224.59A71.1 71.1 0 0 0 464.41 222.54" stroke="#d1b241" stroke-width="0.9" fill="none"/>
<path d="M465.10 222.72A71.1 71.1 0 0 0 458.35 221.26" stroke="#d3b240" stroke-width="0.9" fill="none"/>
<path d="M459.05 221.38A71.1 71.1 0 0 0 452.19 220.51" stroke="#d5b140" stroke-width="0.9" fill="none"/>
<path d="M452.90 220.57A71.1 71.1 0 0 0 445.99 220.30" stroke="#d6b13f" stroke-width="0.9" fill="none"/>
<path d="M446.70 220.30A71.1 71.1 0 0 0 439.80 220.64" stroke="#d8b03e" stroke-width="0.9" fill="none"/>
<path d="M440.50 220.57A71.1 71.1 0 0 0 433.65 221.51" stroke="#dab03e" stroke-width="0.9" fill="none"/>
<path d="M434.35 221.38A71.1 71.1 0 0 0 427.61 222.91" stroke="#dbaf3d" stroke-width="0.9" fill="none"/>
<path d="M428.30 222.72A71.1 71.1 0 0 0 421.72 224.83" stroke="#ddae3c" stroke-width="0.9" fill="none"/>
<path d="M422.38 224.59A71.1 71.1 0 0 0 416.01 227.27" stroke="#dead3c" stroke-width="0.9" fill="none"/>
<path d="M416.65 226.96A71.1 71.1 0 0 0 410.54 230.18" stroke="#dfab3b" stroke-width="0.9" fill="none"/>
<path d="M411.15 229.83A71.1 71.1 0 0 0 405.34 233.57" stroke="#dfaa3b" stroke-width="0.9" fill="none"/>
<path d="M405.92 233.16A71.1 71.1 0 0 0 400.46 237.39" stroke="#dfa83b" stroke-width="0.9" fill="none"/>
<path d="M401.00 236.93A71.1 71.1 0 0 0 395.92 241.63" stroke="#e0a63a" stroke-width="0.9" fill="none"/>
<path d="M396.42 241.12A71.1 71.1 0 0 0 391.78 246.24" stroke="#e0a43a" stroke-width="0.9" fill="none"/>
<path d="M392.23 245.70A71.1 71.1 0 0 0 388.05 251.20" stroke="#e0a339" stroke-width="0.9" fill="none"/>
<path d="M388.46 250.62A71.1 71.1 0 0 0 384.77 256.47" stroke="#e1a139" stroke-width="0.9" fill="none"/>
<path d="M385.13 255.85A71.1 71.1 0 0 0 381.96 262.00" stroke="#e19f39" stroke-width="0.9" fill="none"/>
<path d="M382.26 261.35A71.1 71.1 0 0 0 379.65 267.75" stroke="#e19d38" stroke-width="0.9" fill="none"/>
<path d="M379.89 267.08A71.1 71.1 0 0 0 377.84 273.69" stroke="#e29c38" stroke-width="0.9" fill="none"/>
<path d="M378.02 273.00A71.1 71.1 0 0 0 376.56 279.75" stroke="#e29a37" stroke-width="0.9" fill="none"/>
<path d="M376.68 279.05A71.1 71.1 0 0 0 375.81 285.91" stroke="#e29837" stroke-width="0.9" fill="none"/>
<path d="M375.87 285.20A71.1 71.1 0 0 0 375.60 292.11" stroke="#e39637" stroke-width="0.9" fill="none"/>
<path d="M375.60 291.40A71.1 71.1 0 0 0 375.94 298.30" stroke="#e39436" stroke-width="0.9" fill="none"/>
<path d="M375.87 297.60A71.1 71.1 0 0 0 376.81 304.45" stroke="#e49336" stroke-width="0.9" fill="none"/>
<path d="M376.68 303.75A71.1 71.1 0 0 0 378.21 310.49" stroke="#e49135" stroke-width="0.9" fill="none"/>
<path d="M378.02 309.80A71.1 71.1 0 0 0 380.13 316.38" stroke="#e48f35" stroke-width="0.9" fill="none"/>
<path d="M379.89 315.72A71.1 71.1 0 0 0 382.57 322.09" stroke="#e58d35" stroke-width="0.9" fill="none"/>
<path d="M382.26 321.45A71.1 71.1 0 0 0 385.48 327.56" stroke="#e58c34" stroke-width="0.9" fill="none"/>
<path d="M385.13 326.95A71.1 71.1 0 0 0 388.87 332.76" stroke="#e58a34" stroke-width="0.9" fill="none"/>
<path d="M388.46 332.18A71.1 71.1 0 0 0 392.69 337.64" stroke="#e68833" stroke-width="0.9" fill="none"/>
<path d="M392.23 337.10A71.1 71.1 0 0 0 396.93 342.18" stroke="#e68633" stroke-width="0.9" fill="none"/>
<path d="M396.42 341.68A71.1 71.1 0 0 0 401.54 346.32" stroke="#e68533" stroke-width="0.9" fill="none"/>
<path d="M401.00 345.87A71.1 71.1 0 0 0 406.50 350.05" stroke="#e78332" stroke-width="0.9" fill="none"/>
<path d="M405.92 349.64A71.1 71.1 0 0 0 411.77 353.33" stroke="#e78032" stroke-width="0.9" fill="none"/>
<path d="M411.15 352.97A71.1 71.1 0 0 0 417.30 356.14" stroke="#e67c31" stroke-width="0.9" fill="none"/>
<path d="M416.65 355.84A71.1 71.1 0 0 0 423.05 358.45" stroke="#e67830" stroke-width="0.9" fill="none"/>
<path d="M422.38 358.21A71.1 71.1 0 0 0 428.99 360.26" stroke="#e57430" stroke-width="0.9" fill="none"/>
<path d="M428.30 360.08A71.1 71.1 0 0 0 435.05 361.54" stroke="#e5712f" stroke-width="0.9" fill="none"/>
<path d="M434.35 361.42A71.1 71.1 0 0 0 441.21 362.29" stroke="#e46d2e" stroke-width="0.9" fill="none"/>
<path d="M440.50 362.23A71.1 71.1 0 0 0 447.41 362.50" stroke="#e4692e" stroke-width="0.9" fill="none"/>
<path d="M446.70 362.50A71.1 71.1 0 0 0 453.60 362.16" stroke="#e3652d" stroke-width="0.9" fill="none"/>
<path d="M452.90 362.23A71.1 71.1 0 0 0 459.75 361.29" stroke="#e3612d" stroke-width="0.9" fill="none"/>
<path d="M459.05 361.42A71.1 71.1 0 0 0 465.79 359.89" stroke="#e25d2c" stroke-width="0.9" fill="none"/>
<path d="M465.10 360.08A71.1 71.1 0 0 0 471.68 357.97" stroke="#e2592b" stroke-width="0.9" fill="none"/>
<path d="M471.02 358.21A71.1 71.1 0 0 0 477.39 355.53" stroke="#e1552b" stroke-width="0.9" fill="none"/>
<path d="M476.75 355.84A71.1 71.1 0 0 0 482.86 352.62" stroke="#e1522a" stroke-width="0.9" fill="none"/>
<path d="M482.25 352.97A71.1 71.1 0 0 0 488.06 349.23" stroke="#e14e29" stroke-width="0.9" fill="none"/>
<path d="M487.48 349.64A71.1 71.1 0 0 0 492.94 345.41" stroke="#e04a29" stroke-width="0.9" fill="none"/>
<path d="M492.40 345.87A71.1 71.1 0 0 0 497.48 341.17" stroke="#e04628" stroke-width="0.9" fill="none"/>
<path d="M496.98 341.68A71.1 71.1 0 0 0 501.62 336.56" stroke="#df4227" stroke-width="0.9" fill="none"/>
<path d="M501.17 337.10A71.1 71.1 0 0 0 505.35 331.60" stroke="#df3e27" stroke-width="0.9" fill="none"/>
<path d="M504.94 332.18A71.1 71.1 0 0 0 508.63 326.33" stroke="#de3a26" stroke-width="0.9" fill="none"/>
<path d="M508.27 326.95A71.1 71.1 0 0 0 511.44 320.80" stroke="#de3626" stroke-width="0.9" fill="none"/>
<path d="M511.14 321.45A71.1 71.1 0 0 0 513.75 315.05" stroke="#dd3225" stroke-width="0.9" fill="none"/>
<path d="M513.51 315.72A71.1 71.1 0 0 0 515.56 309.11" stroke="#dd2f24" stroke-width="0.9" fill="none"/>
<path d="M515.38 309.80A71.1 71.1 0 0 0 516.84 303.05" stroke="#dc2b24" stroke-width="0.9" fill="none"/>
<path d="M516.72 303.75A71.1 71.1 0 0 0 517.59 296.89" stroke="#dc2723" stroke-width="0.9" fill="none"/>
<path d="M517.53 297.60A71.1 71.1 0 0 0 517.80 290.69" stroke="#db2322" stroke-width="0.9" fill="none"/>
<text x="387.1" y="304.9" font-size="11" text-anchor="middle" class="tk">−2</text>
<text x="444.2" y="354.2" font-size="11" text-anchor="end" class="tk">−2</text>
<text x="416.4" y="304.9" font-size="11" text-anchor="middle" class="tk">−1</text>
<text x="444.2" y="324.9" font-size="11" text-anchor="end" class="tk">−1</text>
<text x="476.3" y="304.9" font-size="11" text-anchor="middle" class="tk">1</text>
<text x="444.2" y="266.7" font-size="11" text-anchor="end" class="tk">1</text>
<text x="505.6" y="304.9" font-size="11" text-anchor="middle" class="tk">2</text>
<text x="444.2" y="237.4" font-size="11" text-anchor="end" class="tk">2</text>
<text x="539.6" y="297.2" font-size="16.5" text-anchor="middle" class="tk">x</text>
<text x="446.6" y="200.7" font-size="16" text-anchor="middle" class="tk">t</text>
<rect x="438" y="184" width="18" height="7.4" fill="#fff"/>
</g>
<text x="58.7" y="179.0" textLength="66.0" lengthAdjust="spacing" class="cap">(a) 3D Plot</text>
<text x="309.4" y="179.0" textLength="66.4" lengthAdjust="spacing" class="cap">(b) 2D Plot</text>
<text x="546.1" y="179.0" textLength="95.9" lengthAdjust="spacing" class="cap">(c) Contour Plot</text>
<text x="186.1" y="395.3" textLength="93.6" lengthAdjust="spacing" class="cap">(d) Density Plot</text>
<text x="413.6" y="395.3" textLength="78.5" lengthAdjust="spacing" class="cap">(e) Polar Plot</text>
</svg></body></html>
